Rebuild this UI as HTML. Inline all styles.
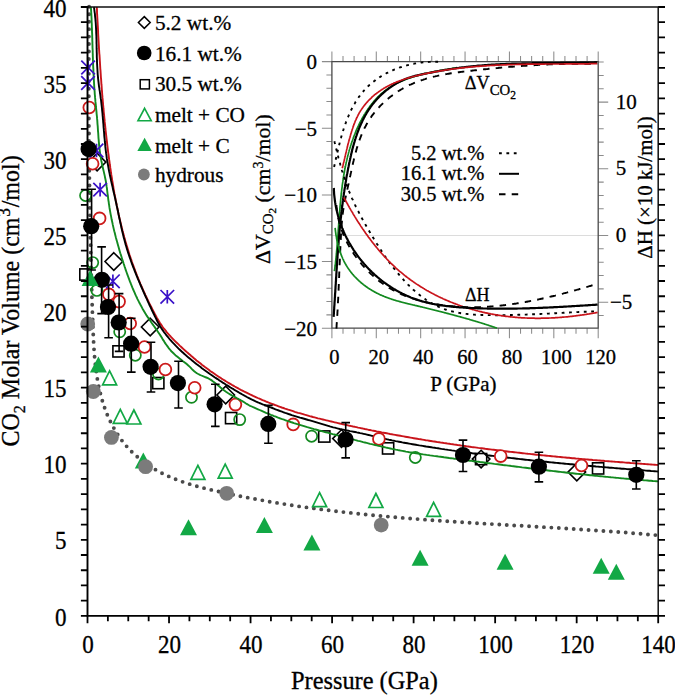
<!DOCTYPE html>
<html><head><meta charset="utf-8"><style>
html,body{margin:0;padding:0;background:#fff;width:675px;height:695px;overflow:hidden}
svg{display:block}
text{font-family:"Liberation Serif",serif;fill:#000;stroke:#000;stroke-width:0.3px}
</style></head><body>
<svg width="675" height="695" viewBox="0 0 675 695">
<rect width="675" height="695" fill="#fff"/>
<polyline points="89.1,6.8 89.1,8.4 89.1,10.1 89.1,11.8 89.1,13.5 89.1,15.2 89.1,16.9 89.0,18.5 89.0,20.2 89.0,21.9 89.0,23.6 89.0,25.3 89.0,26.9 89.0,28.6 89.0,30.3 89.0,32.0 89.0,33.7 88.9,35.3 88.9,37.0 88.9,38.7 88.9,40.3 88.9,42.0 88.9,43.7 88.9,45.4 88.9,47.0 88.9,48.7 88.9,50.4 88.9,52.0 88.9,53.7 88.9,55.4 88.9,57.0 88.8,58.7 88.8,60.4 88.8,62.0 88.8,63.7 88.8,65.4 88.8,67.0 88.8,68.7 88.8,70.3 88.8,72.0 88.8,73.7 88.8,75.3 88.8,77.0 88.8,78.6 88.8,80.3 88.8,82.0 88.8,83.6 88.8,85.3 88.8,86.9 88.8,88.6 88.8,90.2 88.8,91.9 88.8,93.6 88.8,95.2 88.8,96.9 88.8,98.5 88.8,100.2 88.8,101.8 88.8,103.5 88.8,105.1 88.8,106.8 88.9,108.4 88.9,110.1 88.9,111.7 88.9,113.4 88.9,115.0 88.9,116.7 88.9,118.3 88.9,120.0 88.9,121.6 88.9,123.3 88.9,124.9 88.9,126.6 88.9,128.2 89.0,129.9 89.0,131.5 89.0,133.2 89.0,134.8 89.0,136.5 89.0,138.1 89.0,139.8 89.0,141.4 89.0,143.1 89.1,144.7 89.1,146.4 89.1,148.0 89.1,149.7 89.1,151.3 89.1,152.9 89.1,154.6 89.2,156.2 89.2,157.9 89.2,159.5 89.2,161.2 89.2,162.8 89.2,164.5 89.3,166.1 89.3,167.8 89.3,169.4 89.3,171.1 89.3,172.7 89.3,174.3 89.4,176.0 89.4,177.6 89.4,179.3 89.4,180.9 89.5,182.6 89.5,184.2 89.5,185.9 89.5,187.5 89.5,189.2 89.6,190.8 89.6,192.5 89.6,194.1 89.6,195.7 89.7,197.4 89.7,199.0 89.7,200.7 89.7,202.3 89.8,204.0 89.8,205.6 89.8,207.3 89.9,208.9 89.9,210.6 89.9,212.2 89.9,213.9 90.0,215.5 90.0,217.2 90.0,218.8 90.1,220.5 90.1,222.1 90.1,223.8 90.2,225.4 90.2,227.1 90.2,228.7 90.2,230.4 90.3,232.0 90.3,233.7 90.4,235.3 90.4,237.0 90.4,238.6 90.5,240.3 90.5,241.9 90.5,243.6 90.6,245.2 90.6,246.9 90.6,248.6 90.7,250.2 90.7,251.9 90.8,253.5 90.8,255.2 90.8,256.8 90.9,258.5 90.9,260.2 91.0,261.8 91.0,263.5 91.0,265.1 91.1,266.8 91.1,268.5 91.2,270.1 91.2,271.8 91.3,273.4 91.3,275.1 91.3,276.8 91.4,278.4 91.4,280.1 91.5,281.8 91.5,283.4 91.6,285.1 91.6,286.8 91.7,288.4 91.7,290.1 91.8,291.8 91.8,293.4 91.9,295.1 91.9,296.8 92.0,298.4 92.0,300.1 92.1,301.8 92.1,303.5 92.2,305.1 92.2,306.8 92.3,308.5 92.3,310.2 92.4,311.8 92.5,313.5 92.5,315.2 92.6,316.9 92.6,318.6 92.7,320.2 92.7,321.9 92.8,323.6 92.9,325.3 92.9,327.0 93.0,328.6 93.0,330.3 93.1,332.0 93.2,333.7 93.3,335.4 93.3,337.1 93.4,338.7 93.5,340.4 93.6,342.1 93.7,343.8 93.8,345.5 93.9,347.1 94.0,348.8 94.1,350.5 94.2,352.2 94.4,353.8 94.5,355.5 94.6,357.2 94.8,358.8 94.9,360.5 95.1,362.2 95.3,363.8 95.5,365.5 95.7,367.1 95.9,368.8 96.1,370.4 96.3,372.1 96.5,373.7 96.8,375.3 97.0,377.0 97.3,378.6 97.6,380.2 97.9,381.8 98.2,383.5 98.5,385.1 98.8,386.7 99.1,388.3 99.5,389.9 99.9,391.5 100.3,393.1 100.7,394.7 101.1,396.2 101.5,397.8 101.9,399.4 102.4,400.9 102.9,402.5 103.4,404.1 103.9,405.6 104.4,407.1 104.9,408.7 105.5,410.2 106.1,411.7 106.7,413.2 107.3,414.8 107.9,416.3 108.6,417.7 109.3,419.2 110.0,420.7 110.7,422.2 111.4,423.7 112.2,425.1 113.0,426.6 113.8,428.0 114.6,429.4 115.4,430.8 116.3,432.2 117.1,433.6 118.0,435.0 119.0,436.4 119.9,437.7 120.8,439.1 121.8,440.4 122.8,441.7 123.8,443.0 124.9,444.3 125.9,445.5 127.0,446.8 128.1,448.0 129.2,449.2 130.4,450.4 131.5,451.6 132.7,452.7 133.9,453.8 135.1,455.0 136.4,456.1 137.6,457.1 138.9,458.2 140.2,459.3 141.5,460.3 142.8,461.3 144.1,462.3 145.5,463.2 146.8,464.2 148.2,465.1 149.6,466.1 151.0,467.0 152.4,467.8 153.8,468.7 155.2,469.5 156.7,470.4 158.1,471.2 159.6,472.0 161.1,472.7 162.6,473.5 164.1,474.2 165.6,475.0 167.1,475.7 168.6,476.3 170.1,477.0 171.6,477.7 173.1,478.3 174.7,478.9 176.2,479.5 177.8,480.1 179.3,480.7 180.9,481.3 182.4,481.8 184.0,482.3 185.6,482.9 187.2,483.4 188.7,483.9 190.3,484.3 191.9,484.8 193.5,485.3 195.1,485.7 196.7,486.2 198.3,486.6 199.9,487.1 201.5,487.5 203.1,487.9 204.7,488.3 206.3,488.7 207.9,489.1 209.6,489.5 211.2,489.9 212.8,490.3 214.4,490.6 216.0,491.0 217.7,491.4 219.3,491.7 220.9,492.1 222.5,492.5 224.1,492.8 225.8,493.2 227.4,493.5 229.0,493.9 230.6,494.2 232.3,494.5 233.9,494.9 235.5,495.2 237.1,495.6 238.8,495.9 240.4,496.2 242.0,496.5 243.6,496.9 245.3,497.2 246.9,497.5 248.5,497.8 250.2,498.1 251.8,498.4 253.4,498.7 255.0,499.0 256.7,499.3 258.3,499.6 259.9,499.9 261.6,500.2 263.2,500.5 264.8,500.8 266.5,501.1 268.1,501.4 269.7,501.7 271.4,502.0 273.0,502.2 274.6,502.5 276.3,502.8 277.9,503.0 279.5,503.3 281.2,503.6 282.8,503.8 284.4,504.1 286.1,504.4 287.7,504.6 289.3,504.9 291.0,505.1 292.6,505.4 294.2,505.6 295.9,505.9 297.5,506.1 299.2,506.4 300.8,506.6 302.4,506.8 304.1,507.1 305.7,507.3 307.3,507.5 309.0,507.8 310.6,508.0 312.3,508.2 313.9,508.4 315.5,508.6 317.2,508.9 318.8,509.1 320.5,509.3 322.1,509.5 323.8,509.7 325.4,509.9 327.0,510.1 328.7,510.3 330.3,510.5 332.0,510.7 333.6,510.9 335.2,511.1 336.9,511.3 338.5,511.5 340.2,511.7 341.8,511.9 343.5,512.1 345.1,512.3 346.8,512.5 348.4,512.7 350.0,512.8 351.7,513.0 353.3,513.2 355.0,513.4 356.6,513.6 358.3,513.7 359.9,513.9 361.6,514.1 363.2,514.2 364.9,514.4 366.5,514.6 368.2,514.7 369.8,514.9 371.5,515.1 373.1,515.2 374.8,515.4 376.4,515.6 378.0,515.7 379.7,515.9 381.3,516.0 383.0,516.2 384.6,516.3 386.3,516.5 387.9,516.6 389.6,516.8 391.2,516.9 392.9,517.1 394.5,517.2 396.2,517.3 397.8,517.5 399.5,517.6 401.1,517.8 402.8,517.9 404.4,518.0 406.1,518.2 407.7,518.3 409.4,518.4 411.1,518.6 412.7,518.7 414.4,518.8 416.0,519.0 417.7,519.1 419.3,519.2 421.0,519.3 422.6,519.5 424.3,519.6 425.9,519.7 427.6,519.8 429.2,520.0 430.9,520.1 432.5,520.2 434.2,520.3 435.8,520.4 437.5,520.6 439.1,520.7 440.8,520.8 442.5,520.9 444.1,521.0 445.8,521.1 447.4,521.3 449.1,521.4 450.7,521.5 452.4,521.6 454.0,521.7 455.7,521.8 457.3,521.9 459.0,522.0 460.7,522.1 462.3,522.2 464.0,522.3 465.6,522.4 467.3,522.6 468.9,522.7 470.6,522.8 472.2,522.9 473.9,523.0 475.5,523.1 477.2,523.2 478.9,523.3 480.5,523.4 482.2,523.5 483.8,523.6 485.5,523.7 487.1,523.8 488.8,523.9 490.4,524.0 492.1,524.1 493.8,524.2 495.4,524.3 497.1,524.4 498.7,524.5 500.4,524.6 502.0,524.7 503.7,524.8 505.3,524.9 507.0,525.0 508.7,525.1 510.3,525.2 512.0,525.3 513.6,525.4 515.3,525.5 516.9,525.6 518.6,525.6 520.3,525.7 521.9,525.8 523.6,525.9 525.2,526.0 526.9,526.1 528.5,526.2 530.2,526.3 531.8,526.4 533.5,526.5 535.2,526.6 536.8,526.7 538.5,526.8 540.1,526.9 541.8,527.0 543.4,527.1 545.1,527.2 546.7,527.3 548.4,527.4 550.1,527.5 551.7,527.6 553.4,527.7 555.0,527.8 556.7,527.9 558.3,528.0 560.0,528.1 561.6,528.2 563.3,528.3 564.9,528.4 566.6,528.5 568.3,528.6 569.9,528.7 571.6,528.8 573.2,528.9 574.9,529.0 576.5,529.1 578.2,529.2 579.8,529.4 581.5,529.5 583.1,529.6 584.8,529.7 586.4,529.8 588.1,529.9 589.8,530.0 591.4,530.1 593.1,530.2 594.7,530.3 596.4,530.5 598.0,530.6 599.7,530.7 601.3,530.8 603.0,530.9 604.6,531.0 606.3,531.1 607.9,531.3 609.6,531.4 611.2,531.5 612.9,531.6 614.5,531.7 616.2,531.9 617.8,532.0 619.5,532.1 621.1,532.2 622.8,532.4 624.5,532.5 626.1,532.6 627.8,532.8 629.4,532.9 631.1,533.0 632.7,533.2 634.4,533.3 636.0,533.4 637.7,533.6 639.3,533.7 641.0,533.8 642.6,534.0 644.2,534.1 645.9,534.3 647.5,534.4 649.2,534.5 650.8,534.7 652.5,534.8 654.1,535.0 655.8,535.1 657.4,535.3" fill="none" stroke="#4a4a4a" stroke-width="3.9" stroke-linecap="round" stroke-dasharray="0 7.45"/>
<polyline points="96.8,7.0 96.9,8.7 97.0,10.4 97.0,12.2 97.1,13.9 97.2,15.6 97.3,17.3 97.4,19.0 97.5,20.7 97.6,22.4 97.7,24.2 97.8,25.9 97.9,27.6 98.0,29.3 98.1,31.0 98.1,32.7 98.2,34.5 98.3,36.2 98.4,37.9 98.5,39.6 98.6,41.3 98.7,43.0 98.8,44.7 98.9,46.5 99.0,48.2 99.1,49.9 99.2,51.6 99.3,53.3 99.5,55.0 99.6,56.8 99.7,58.5 99.8,60.2 99.9,61.9 100.0,63.6 100.1,65.3 100.2,67.0 100.3,68.8 100.5,70.5 100.6,72.2 100.7,73.9 100.8,75.6 100.9,77.3 101.1,79.1 101.2,80.8 101.3,82.5 101.4,84.2 101.6,85.9 101.7,87.6 101.8,89.3 102.0,91.1 102.1,92.8 102.2,94.5 102.4,96.2 102.5,97.9 102.7,99.6 102.8,101.3 103.0,103.0 103.1,104.8 103.3,106.5 103.4,108.2 103.6,109.9 103.7,111.6 103.9,113.3 104.1,115.0 104.2,116.7 104.4,118.4 104.6,120.2 104.7,121.9 104.9,123.6 105.1,125.3 105.3,127.0 105.4,128.7 105.6,130.4 105.8,132.1 106.0,133.8 106.2,135.5 106.4,137.3 106.6,139.0 106.8,140.7 107.0,142.4 107.2,144.1 107.4,145.8 107.6,147.5 107.8,149.2 108.0,150.9 108.2,152.6 108.5,154.3 108.7,156.0 108.9,157.7 109.1,159.4 109.4,161.1 109.6,162.8 109.8,164.5 110.1,166.2 110.3,167.9 110.6,169.6 110.8,171.3 111.1,173.0 111.3,174.7 111.6,176.4 111.9,178.1 112.1,179.8 112.4,181.5 112.7,183.2 113.0,184.9 113.3,186.6 113.5,188.3 113.8,190.0 114.1,191.7 114.4,193.4 114.8,195.1 115.1,196.8 115.4,198.5 115.7,200.1 116.0,201.8 116.4,203.5 116.7,205.2 117.1,206.9 117.4,208.6 117.8,210.2 118.1,211.9 118.5,213.6 118.8,215.3 119.2,216.9 119.6,218.6 120.0,220.3 120.4,222.0 120.8,223.6 121.2,225.3 121.6,227.0 122.0,228.6 122.4,230.3 122.9,231.9 123.3,233.6 123.8,235.3 124.2,236.9 124.7,238.6 125.1,240.2 125.6,241.9 126.1,243.5 126.6,245.2 127.1,246.8 127.6,248.5 128.1,250.1 128.6,251.7 129.1,253.4 129.6,255.0 130.2,256.7 130.7,258.3 131.3,259.9 131.8,261.5 132.4,263.2 133.0,264.8 133.6,266.4 134.2,268.0 134.8,269.6 135.4,271.3 136.0,272.9 136.6,274.5 137.2,276.1 137.9,277.7 138.5,279.3 139.2,280.9 139.8,282.5 140.5,284.1 141.2,285.6 141.9,287.2 142.6,288.8 143.3,290.4 144.0,292.0 144.7,293.5 145.4,295.1 146.2,296.7 146.9,298.2 147.6,299.8 148.4,301.3 149.1,302.9 149.9,304.4 150.7,305.9 151.5,307.5 152.2,309.0 153.0,310.5 153.8,312.0 154.6,313.5 155.5,315.1 156.3,316.6 157.1,318.1 157.9,319.5 158.8,321.0 159.7,322.5 160.6,323.9 161.6,325.3 162.5,326.7 163.5,328.1 164.6,329.4 165.6,330.7 166.7,332.1 167.8,333.4 168.9,334.6 170.1,335.9 171.2,337.2 172.4,338.4 173.6,339.6 174.8,340.8 176.0,342.0 177.3,343.2 178.5,344.4 179.7,345.6 181.0,346.8 182.3,348.0 183.5,349.1 184.8,350.3 186.1,351.4 187.4,352.6 188.7,353.7 190.0,354.8 191.3,356.0 192.6,357.1 193.9,358.2 195.2,359.3 196.5,360.4 197.9,361.5 199.2,362.5 200.6,363.6 201.9,364.7 203.3,365.7 204.6,366.8 206.0,367.8 207.4,368.8 208.8,369.8 210.2,370.9 211.6,371.9 213.0,372.8 214.4,373.8 215.8,374.8 217.2,375.7 218.7,376.7 220.1,377.6 221.5,378.6 223.0,379.5 224.5,380.4 225.9,381.3 227.4,382.2 228.9,383.1 230.3,383.9 231.8,384.8 233.3,385.6 234.8,386.5 236.3,387.3 237.8,388.1 239.3,389.0 240.8,389.8 242.4,390.6 243.9,391.4 245.4,392.1 247.0,392.9 248.5,393.7 250.0,394.4 251.6,395.1 253.1,395.9 254.7,396.6 256.3,397.3 257.8,398.0 259.4,398.7 261.0,399.4 262.5,400.1 264.1,400.7 265.7,401.4 267.3,402.0 268.9,402.7 270.5,403.3 272.1,403.9 273.7,404.5 275.3,405.1 276.9,405.7 278.5,406.3 280.1,406.9 281.7,407.5 283.4,408.0 285.0,408.6 286.6,409.1 288.2,409.7 289.9,410.2 291.5,410.7 293.1,411.2 294.8,411.8 296.4,412.3 298.1,412.8 299.7,413.2 301.3,413.7 303.0,414.2 304.6,414.7 306.3,415.1 308.0,415.6 309.6,416.1 311.3,416.5 312.9,417.0 314.6,417.4 316.3,417.8 317.9,418.3 319.6,418.7 321.3,419.1 322.9,419.5 324.6,419.9 326.3,420.3 327.9,420.7 329.6,421.1 331.3,421.5 333.0,421.9 334.6,422.3 336.3,422.7 338.0,423.1 339.7,423.5 341.3,423.9 343.0,424.3 344.7,424.6 346.4,425.0 348.0,425.4 349.7,425.8 351.4,426.1 353.1,426.5 354.8,426.8 356.4,427.2 358.1,427.6 359.8,427.9 361.5,428.3 363.2,428.6 364.9,429.0 366.5,429.3 368.2,429.7 369.9,430.0 371.6,430.4 373.3,430.7 375.0,431.0 376.6,431.4 378.3,431.7 380.0,432.0 381.7,432.4 383.4,432.7 385.1,433.0 386.8,433.3 388.4,433.6 390.1,434.0 391.8,434.3 393.5,434.6 395.2,434.9 396.9,435.2 398.6,435.5 400.3,435.8 402.0,436.1 403.7,436.4 405.3,436.7 407.0,437.0 408.7,437.3 410.4,437.6 412.1,437.9 413.8,438.2 415.5,438.5 417.2,438.8 418.9,439.1 420.6,439.3 422.3,439.6 424.0,439.9 425.7,440.2 427.4,440.4 429.1,440.7 430.8,441.0 432.5,441.3 434.2,441.5 435.8,441.8 437.5,442.1 439.2,442.3 440.9,442.6 442.6,442.8 444.3,443.1 446.0,443.3 447.7,443.6 449.4,443.8 451.1,444.1 452.8,444.3 454.5,444.6 456.2,444.8 457.9,445.1 459.6,445.3 461.3,445.6 463.0,445.8 464.7,446.0 466.4,446.3 468.1,446.5 469.8,446.7 471.5,447.0 473.3,447.2 475.0,447.4 476.7,447.6 478.4,447.9 480.1,448.1 481.8,448.3 483.5,448.5 485.2,448.8 486.9,449.0 488.6,449.2 490.3,449.4 492.0,449.6 493.7,449.8 495.4,450.0 497.1,450.2 498.8,450.4 500.5,450.7 502.2,450.9 503.9,451.1 505.6,451.3 507.4,451.5 509.1,451.7 510.8,451.9 512.5,452.0 514.2,452.2 515.9,452.4 517.6,452.6 519.3,452.8 521.0,453.0 522.7,453.2 524.4,453.4 526.1,453.6 527.9,453.8 529.6,453.9 531.3,454.1 533.0,454.3 534.7,454.5 536.4,454.7 538.1,454.8 539.8,455.0 541.5,455.2 543.2,455.4 544.9,455.5 546.7,455.7 548.4,455.9 550.1,456.0 551.8,456.2 553.5,456.4 555.2,456.5 556.9,456.7 558.6,456.9 560.3,457.0 562.1,457.2 563.8,457.4 565.5,457.5 567.2,457.7 568.9,457.8 570.6,458.0 572.3,458.2 574.0,458.3 575.8,458.5 577.5,458.6 579.2,458.8 580.9,458.9 582.6,459.1 584.3,459.2 586.0,459.4 587.7,459.5 589.5,459.7 591.2,459.8 592.9,460.0 594.6,460.1 596.3,460.2 598.0,460.4 599.7,460.5 601.5,460.7 603.2,460.8 604.9,461.0 606.6,461.1 608.3,461.2 610.0,461.4 611.7,461.5 613.4,461.6 615.2,461.8 616.9,461.9 618.6,462.0 620.3,462.2 622.0,462.3 623.7,462.4 625.4,462.6 627.2,462.7 628.9,462.8 630.6,463.0 632.3,463.1 634.0,463.2 635.7,463.4 637.4,463.5 639.2,463.6 640.9,463.7 642.6,463.9 644.3,464.0 646.0,464.1 647.7,464.2 649.4,464.4 651.1,464.5 652.9,464.6 654.6,464.7 656.3,464.9 658.0,465.0" fill="none" stroke="#c9141b" stroke-width="1.9" stroke-linejoin="round"/>
<polyline points="93.9,7.0 94.2,8.7 94.4,10.4 94.6,12.1 94.9,13.9 95.0,15.6 95.2,17.3 95.4,19.0 95.5,20.7 95.7,22.5 95.8,24.2 95.9,25.9 96.0,27.6 96.1,29.4 96.2,31.1 96.2,32.8 96.3,34.5 96.4,36.3 96.4,38.0 96.5,39.7 96.5,41.5 96.5,43.2 96.6,44.9 96.6,46.7 96.6,48.4 96.7,50.1 96.7,51.8 96.8,53.6 96.8,55.3 96.8,57.0 96.9,58.8 97.0,60.5 97.0,62.2 97.1,63.9 97.2,65.7 97.3,67.4 97.4,69.1 97.5,70.8 97.6,72.6 97.7,74.3 97.9,76.0 98.0,77.7 98.2,79.4 98.4,81.1 98.6,82.8 98.8,84.6 99.0,86.3 99.3,88.0 99.5,89.7 99.8,91.4 100.0,93.1 100.3,94.8 100.5,96.5 100.7,98.2 101.0,99.9 101.2,101.6 101.4,103.3 101.6,105.1 101.8,106.8 102.0,108.5 102.1,110.2 102.3,111.9 102.5,113.7 102.6,115.4 102.8,117.1 102.9,118.8 103.1,120.5 103.2,122.3 103.4,124.0 103.5,125.7 103.6,127.4 103.8,129.2 103.9,130.9 104.1,132.6 104.2,134.3 104.3,136.1 104.5,137.8 104.7,139.5 104.8,141.2 105.0,142.9 105.2,144.7 105.3,146.4 105.5,148.1 105.7,149.8 105.9,151.5 106.1,153.2 106.4,154.9 106.6,156.6 106.8,158.4 107.1,160.1 107.4,161.8 107.7,163.5 108.0,165.2 108.3,166.9 108.6,168.6 108.9,170.2 109.2,171.9 109.6,173.6 109.9,175.3 110.3,177.0 110.7,178.7 111.0,180.4 111.4,182.1 111.8,183.8 112.2,185.4 112.6,187.1 112.9,188.8 113.3,190.5 113.7,192.2 114.1,193.9 114.5,195.6 114.9,197.3 115.3,198.9 115.6,200.6 116.0,202.3 116.4,204.0 116.7,205.7 117.1,207.4 117.5,209.1 117.8,210.8 118.2,212.5 118.5,214.2 118.9,215.9 119.2,217.6 119.6,219.2 120.0,220.9 120.3,222.6 120.7,224.3 121.1,226.0 121.4,227.7 121.8,229.4 122.2,231.1 122.6,232.7 123.0,234.4 123.4,236.1 123.8,237.8 124.3,239.4 124.7,241.1 125.2,242.8 125.6,244.4 126.1,246.1 126.6,247.7 127.1,249.4 127.6,251.0 128.1,252.7 128.7,254.3 129.2,255.9 129.8,257.6 130.4,259.2 130.9,260.8 131.5,262.5 132.1,264.1 132.7,265.7 133.3,267.3 134.0,268.9 134.6,270.6 135.2,272.2 135.9,273.8 136.5,275.4 137.2,277.0 137.8,278.6 138.5,280.2 139.2,281.8 139.9,283.4 140.5,285.0 141.2,286.5 141.9,288.1 142.6,289.7 143.3,291.3 144.0,292.9 144.7,294.5 145.4,296.0 146.1,297.6 146.9,299.2 147.6,300.8 148.3,302.3 149.0,303.9 149.7,305.5 150.5,307.0 151.2,308.6 151.9,310.2 152.7,311.7 153.4,313.3 154.2,314.8 154.9,316.4 155.7,317.9 156.5,319.5 157.2,321.0 158.0,322.5 158.9,324.0 159.7,325.5 160.6,327.0 161.5,328.4 162.5,329.9 163.4,331.3 164.4,332.7 165.5,334.0 166.5,335.4 167.6,336.7 168.7,338.0 169.8,339.3 171.0,340.6 172.1,341.9 173.3,343.2 174.5,344.4 175.7,345.7 176.9,346.9 178.1,348.1 179.3,349.3 180.6,350.5 181.9,351.7 183.1,352.8 184.4,354.0 185.7,355.1 187.0,356.3 188.4,357.4 189.7,358.5 191.0,359.6 192.4,360.7 193.7,361.8 195.1,362.9 196.4,364.0 197.8,365.0 199.2,366.1 200.6,367.1 201.9,368.2 203.3,369.2 204.7,370.2 206.1,371.2 207.5,372.2 208.9,373.2 210.3,374.2 211.8,375.2 213.2,376.2 214.6,377.2 216.0,378.1 217.5,379.1 218.9,380.1 220.3,381.0 221.8,381.9 223.2,382.9 224.7,383.8 226.1,384.7 227.6,385.6 229.1,386.6 230.5,387.5 232.0,388.4 233.5,389.2 234.9,390.1 236.4,391.0 237.9,391.9 239.4,392.8 240.9,393.6 242.4,394.5 243.9,395.3 245.4,396.2 246.9,397.0 248.5,397.8 250.0,398.6 251.5,399.4 253.1,400.1 254.7,400.9 256.2,401.6 257.8,402.3 259.4,403.0 261.0,403.6 262.6,404.3 264.2,404.9 265.8,405.5 267.4,406.2 269.0,406.8 270.6,407.4 272.3,408.0 273.9,408.6 275.5,409.3 277.1,409.9 278.7,410.5 280.3,411.1 282.0,411.7 283.6,412.3 285.2,412.9 286.8,413.4 288.5,414.0 290.1,414.5 291.7,415.1 293.4,415.6 295.0,416.1 296.7,416.6 298.3,417.1 300.0,417.6 301.6,418.0 303.3,418.5 305.0,419.0 306.6,419.5 308.3,420.0 309.9,420.4 311.6,420.9 313.3,421.4 314.9,421.9 316.6,422.4 318.2,422.9 319.9,423.4 321.5,423.9 323.2,424.4 324.9,424.9 326.5,425.4 328.2,425.9 329.8,426.4 331.5,426.8 333.2,427.3 334.8,427.7 336.5,428.2 338.2,428.6 339.8,429.0 341.5,429.3 343.2,429.7 344.9,430.1 346.6,430.4 348.3,430.7 350.0,431.1 351.7,431.4 353.4,431.7 355.1,432.0 356.8,432.4 358.5,432.7 360.1,433.1 361.8,433.4 363.5,433.8 365.2,434.2 366.9,434.6 368.6,435.0 370.3,435.4 371.9,435.8 373.6,436.2 375.3,436.6 377.0,437.0 378.6,437.4 380.3,437.8 382.0,438.2 383.7,438.6 385.4,438.9 387.1,439.3 388.8,439.7 390.5,440.0 392.1,440.4 393.8,440.7 395.5,441.1 397.2,441.4 398.9,441.7 400.6,442.0 402.3,442.4 404.0,442.7 405.7,443.0 407.4,443.3 409.1,443.6 410.8,443.9 412.5,444.2 414.2,444.5 415.9,444.8 417.6,445.1 419.3,445.4 421.0,445.6 422.7,445.9 424.4,446.2 426.1,446.5 427.9,446.7 429.6,447.0 431.3,447.3 433.0,447.6 434.7,447.8 436.4,448.1 438.1,448.3 439.8,448.6 441.5,448.9 443.2,449.1 444.9,449.4 446.6,449.6 448.3,449.9 450.1,450.1 451.8,450.4 453.5,450.6 455.2,450.9 456.9,451.1 458.6,451.4 460.3,451.6 462.0,451.8 463.7,452.1 465.4,452.3 467.2,452.6 468.9,452.8 470.6,453.0 472.3,453.3 474.0,453.5 475.7,453.7 477.4,453.9 479.1,454.2 480.9,454.4 482.6,454.6 484.3,454.8 486.0,455.0 487.7,455.3 489.4,455.5 491.1,455.7 492.9,455.9 494.6,456.1 496.3,456.3 498.0,456.5 499.7,456.7 501.4,456.9 503.2,457.1 504.9,457.3 506.6,457.5 508.3,457.7 510.0,457.9 511.7,458.1 513.5,458.3 515.2,458.5 516.9,458.7 518.6,458.9 520.3,459.1 522.0,459.3 523.8,459.5 525.5,459.7 527.2,459.9 528.9,460.0 530.6,460.2 532.3,460.4 534.1,460.6 535.8,460.8 537.5,461.0 539.2,461.1 540.9,461.3 542.7,461.5 544.4,461.7 546.1,461.8 547.8,462.0 549.5,462.2 551.3,462.4 553.0,462.5 554.7,462.7 556.4,462.9 558.1,463.0 559.9,463.2 561.6,463.4 563.3,463.5 565.0,463.7 566.7,463.9 568.5,464.0 570.2,464.2 571.9,464.3 573.6,464.5 575.3,464.7 577.1,464.8 578.8,465.0 580.5,465.1 582.2,465.3 584.0,465.4 585.7,465.6 587.4,465.7 589.1,465.9 590.8,466.0 592.6,466.2 594.3,466.3 596.0,466.5 597.7,466.6 599.4,466.8 601.2,466.9 602.9,467.1 604.6,467.2 606.3,467.4 608.1,467.5 609.8,467.7 611.5,467.8 613.2,467.9 614.9,468.1 616.7,468.2 618.4,468.4 620.1,468.5 621.8,468.7 623.6,468.8 625.3,468.9 627.0,469.1 628.7,469.2 630.4,469.3 632.2,469.5 633.9,469.6 635.6,469.8 637.3,469.9 639.1,470.0 640.8,470.2 642.5,470.3 644.2,470.4 645.9,470.6 647.7,470.7 649.4,470.8 651.1,471.0 652.8,471.1 654.6,471.2 656.3,471.4 658.0,471.5" fill="none" stroke="#000" stroke-width="1.9" stroke-linejoin="round"/>
<path d="M97.1,153.29999999999998L105.89999999999999,162.1L97.1,170.9L88.3,162.1Z" fill="#fff" stroke="#000" stroke-width="1.6"/>
<path d="M113.8,252.7L122.6,261.5L113.8,270.3L105.0,261.5Z" fill="#fff" stroke="#000" stroke-width="1.6"/>
<path d="M150.2,318.2L159.0,327L150.2,335.8L141.39999999999998,327Z" fill="#fff" stroke="#000" stroke-width="1.6"/>
<path d="M225.7,386.2L234.5,395L225.7,403.8L216.89999999999998,395Z" fill="#fff" stroke="#000" stroke-width="1.6"/>
<path d="M341.5,429.8L350.3,438.6L341.5,447.40000000000003L332.7,438.6Z" fill="#fff" stroke="#000" stroke-width="1.6"/>
<path d="M481.1,450.3L489.90000000000003,459.1L481.1,467.90000000000003L472.3,459.1Z" fill="#fff" stroke="#000" stroke-width="1.6"/>
<path d="M576.8,463.3L585.5999999999999,472.1L576.8,480.90000000000003L568.0,472.1Z" fill="#fff" stroke="#000" stroke-width="1.6"/>
<rect x="79.80000000000001" y="268.9" width="11.2" height="11.2" fill="none" stroke="#000" stroke-width="1.6"/>
<rect x="112.9" y="345.79999999999995" width="11.2" height="11.2" fill="none" stroke="#000" stroke-width="1.6"/>
<rect x="152.70000000000002" y="377.5" width="11.2" height="11.2" fill="none" stroke="#000" stroke-width="1.6"/>
<rect x="225.5" y="412.5" width="11.2" height="11.2" fill="none" stroke="#000" stroke-width="1.6"/>
<rect x="318.7" y="430.9" width="11.2" height="11.2" fill="none" stroke="#000" stroke-width="1.6"/>
<rect x="382.5" y="442.79999999999995" width="11.2" height="11.2" fill="none" stroke="#000" stroke-width="1.6"/>
<rect x="475.5" y="453.5" width="11.2" height="11.2" fill="none" stroke="#000" stroke-width="1.6"/>
<rect x="592.5" y="462.79999999999995" width="11.2" height="11.2" fill="none" stroke="#000" stroke-width="1.6"/>
<circle cx="85.6" cy="195.5" r="5.6" fill="none" stroke="#138a20" stroke-width="1.7"/>
<circle cx="92.7" cy="262.6" r="5.6" fill="none" stroke="#138a20" stroke-width="1.7"/>
<circle cx="96.9" cy="290.4" r="5.6" fill="none" stroke="#138a20" stroke-width="1.7"/>
<circle cx="119.7" cy="331.8" r="5.6" fill="none" stroke="#138a20" stroke-width="1.7"/>
<circle cx="135.3" cy="355.2" r="5.6" fill="none" stroke="#138a20" stroke-width="1.7"/>
<circle cx="158.5" cy="374" r="5.6" fill="none" stroke="#138a20" stroke-width="1.7"/>
<circle cx="191.5" cy="397.3" r="5.6" fill="none" stroke="#138a20" stroke-width="1.7"/>
<circle cx="239.7" cy="419.6" r="5.6" fill="none" stroke="#138a20" stroke-width="1.7"/>
<circle cx="311.6" cy="436.2" r="5.6" fill="none" stroke="#138a20" stroke-width="1.7"/>
<circle cx="415.3" cy="457.5" r="5.6" fill="none" stroke="#138a20" stroke-width="1.7"/>
<circle cx="89.3" cy="107.5" r="5.9" fill="#fff" stroke="#cc1a1a" stroke-width="1.8"/>
<circle cx="92.6" cy="163.7" r="5.9" fill="#fff" stroke="#cc1a1a" stroke-width="1.8"/>
<circle cx="99.6" cy="218.4" r="5.9" fill="#fff" stroke="#cc1a1a" stroke-width="1.8"/>
<circle cx="108.9" cy="294.4" r="5.9" fill="#fff" stroke="#cc1a1a" stroke-width="1.8"/>
<circle cx="119.1" cy="301.6" r="5.9" fill="#fff" stroke="#cc1a1a" stroke-width="1.8"/>
<circle cx="130.2" cy="323.5" r="5.9" fill="#fff" stroke="#cc1a1a" stroke-width="1.8"/>
<circle cx="144.5" cy="347" r="5.9" fill="#fff" stroke="#cc1a1a" stroke-width="1.8"/>
<circle cx="165.4" cy="369.5" r="5.9" fill="#fff" stroke="#cc1a1a" stroke-width="1.8"/>
<circle cx="194.7" cy="387.8" r="5.9" fill="#fff" stroke="#cc1a1a" stroke-width="1.8"/>
<circle cx="235.4" cy="404.6" r="5.9" fill="#fff" stroke="#cc1a1a" stroke-width="1.8"/>
<circle cx="293.2" cy="424.4" r="5.9" fill="#fff" stroke="#cc1a1a" stroke-width="1.8"/>
<circle cx="378.9" cy="438.9" r="5.9" fill="#fff" stroke="#cc1a1a" stroke-width="1.8"/>
<circle cx="500.7" cy="456.1" r="5.9" fill="#fff" stroke="#cc1a1a" stroke-width="1.8"/>
<circle cx="581.5" cy="465.5" r="5.9" fill="#fff" stroke="#cc1a1a" stroke-width="1.8"/>
<polyline points="90.9,7.0 91.0,8.7 91.1,10.5 91.2,12.2 91.3,14.0 91.4,15.7 91.5,17.5 91.6,19.2 91.6,21.0 91.7,22.7 91.8,24.5 91.8,26.2 91.9,28.0 92.0,29.7 92.0,31.5 92.1,33.2 92.2,35.0 92.2,36.7 92.3,38.5 92.3,40.2 92.4,42.0 92.4,43.7 92.5,45.5 92.5,47.2 92.6,49.0 92.7,50.7 92.7,52.5 92.8,54.2 92.8,56.0 92.9,57.7 92.9,59.5 93.0,61.2 93.1,63.0 93.1,64.7 93.2,66.5 93.3,68.2 93.4,70.0 93.4,71.7 93.5,73.5 93.6,75.2 93.7,77.0 93.8,78.7 93.9,80.5 94.0,82.2 94.1,84.0 94.2,85.7 94.3,87.5 94.4,89.2 94.6,91.0 94.7,92.7 94.8,94.5 95.0,96.2 95.1,97.9 95.3,99.7 95.4,101.4 95.6,103.2 95.8,104.9 95.9,106.7 96.1,108.4 96.3,110.1 96.5,111.9 96.6,113.6 96.8,115.4 97.0,117.1 97.1,118.9 97.3,120.6 97.4,122.4 97.5,124.1 97.7,125.9 97.8,127.6 97.9,129.4 98.0,131.1 98.2,132.9 98.3,134.6 98.4,136.4 98.5,138.1 98.7,139.9 98.8,141.6 99.0,143.4 99.1,145.1 99.3,146.8 99.5,148.6 99.7,150.3 99.9,152.1 100.2,153.8 100.4,155.5 100.7,157.2 101.0,159.0 101.3,160.7 101.7,162.4 102.0,164.1 102.4,165.8 102.8,167.5 103.2,169.2 103.6,170.9 104.0,172.6 104.4,174.4 104.8,176.1 105.1,177.8 105.5,179.5 105.8,181.2 106.1,182.9 106.4,184.7 106.6,186.4 106.9,188.1 107.1,189.9 107.3,191.6 107.5,193.3 107.8,195.1 108.0,196.8 108.2,198.6 108.4,200.3 108.7,202.0 108.9,203.8 109.2,205.5 109.4,207.2 109.7,209.0 110.0,210.7 110.3,212.4 110.6,214.1 111.0,215.9 111.3,217.6 111.6,219.3 112.0,221.0 112.4,222.7 112.7,224.4 113.1,226.1 113.5,227.9 113.9,229.6 114.3,231.3 114.8,233.0 115.2,234.7 115.6,236.4 116.0,238.0 116.5,239.7 117.0,241.4 117.4,243.1 117.9,244.8 118.4,246.5 118.9,248.2 119.3,249.9 119.8,251.5 120.3,253.2 120.9,254.9 121.4,256.6 121.9,258.2 122.4,259.9 123.0,261.6 123.5,263.2 124.1,264.9 124.6,266.6 125.2,268.2 125.7,269.9 126.3,271.5 126.9,273.2 127.5,274.8 128.1,276.5 128.7,278.1 129.3,279.8 129.9,281.4 130.6,283.0 131.2,284.7 131.9,286.3 132.5,287.9 133.2,289.5 133.9,291.1 134.6,292.7 135.3,294.3 136.0,295.9 136.8,297.5 137.5,299.1 138.3,300.6 139.1,302.2 139.9,303.7 140.7,305.3 141.6,306.8 142.4,308.4 143.3,309.9 144.2,311.4 145.1,312.9 146.0,314.4 146.9,315.9 147.9,317.4 148.9,318.8 149.9,320.3 150.9,321.7 151.9,323.2 152.9,324.6 153.9,326.0 154.9,327.4 155.9,328.9 156.9,330.3 157.9,331.7 158.9,333.2 159.8,334.6 160.8,336.1 161.7,337.6 162.6,339.1 163.6,340.6 164.5,342.1 165.5,343.6 166.5,345.0 167.5,346.4 168.5,347.8 169.6,349.2 170.7,350.5 171.9,351.8 173.2,353.0 174.4,354.2 175.7,355.4 177.1,356.5 178.4,357.6 179.8,358.7 181.2,359.8 182.6,360.9 184.0,361.9 185.4,363.0 186.7,364.1 188.0,365.2 189.3,366.4 190.6,367.6 191.7,368.8 192.9,370.0 194.2,371.2 195.5,372.2 196.9,373.2 198.3,374.0 199.9,374.8 201.4,375.5 203.0,376.2 204.6,376.8 206.3,377.5 207.9,378.2 209.4,379.0 210.9,379.9 212.4,380.9 213.8,381.9 215.1,382.9 216.5,384.1 217.8,385.2 219.2,386.3 220.5,387.5 221.8,388.6 223.2,389.8 224.6,390.8 226.0,391.8 227.5,392.8 229.0,393.7 230.5,394.6 232.0,395.5 233.6,396.3 235.1,397.1 236.7,398.0 238.2,398.8 239.7,399.7 241.2,400.5 242.7,401.4 244.2,402.3 245.6,403.2 247.1,404.1 248.6,405.0 250.1,405.8 251.7,406.5 253.2,407.2 254.8,407.9 256.4,408.6 258.0,409.3 259.6,410.0 261.2,410.7 262.8,411.4 264.4,412.1 266.0,412.8 267.6,413.4 269.2,414.1 270.9,414.8 272.5,415.4 274.1,416.1 275.8,416.7 277.4,417.3 279.0,418.0 280.7,418.6 282.3,419.2 284.0,419.7 285.6,420.3 287.3,420.9 289.0,421.4 290.6,422.0 292.3,422.5 293.9,423.1 295.6,423.6 297.3,424.1 299.0,424.7 300.6,425.2 302.3,425.7 304.0,426.2 305.6,426.7 307.3,427.2 309.0,427.6 310.7,428.1 312.4,428.6 314.1,429.1 315.7,429.5 317.4,430.0 319.1,430.5 320.8,430.9 322.5,431.4 324.2,431.8 325.9,432.3 327.6,432.7 329.3,433.2 331.0,433.6 332.6,434.1 334.3,434.5 336.0,435.0 337.7,435.4 339.4,435.9 341.1,436.3 342.8,436.8 344.5,437.2 346.2,437.7 347.9,438.1 349.6,438.5 351.3,439.0 353.0,439.4 354.7,439.9 356.4,440.3 358.1,440.8 359.8,441.2 361.5,441.6 363.2,442.1 364.9,442.5 366.6,442.9 368.3,443.3 370.0,443.8 371.7,444.2 373.4,444.6 375.1,445.0 376.8,445.4 378.5,445.8 380.2,446.2 381.9,446.6 383.6,447.0 385.3,447.4 387.0,447.8 388.7,448.1 390.4,448.5 392.1,448.9 393.9,449.2 395.6,449.6 397.3,449.9 399.0,450.3 400.7,450.6 402.4,450.9 404.2,451.2 405.9,451.6 407.6,451.9 409.3,452.2 411.1,452.4 412.8,452.7 414.5,453.0 416.2,453.3 418.0,453.6 419.7,453.8 421.4,454.1 423.2,454.4 424.9,454.6 426.6,454.9 428.4,455.1 430.1,455.4 431.8,455.6 433.6,455.9 435.3,456.1 437.0,456.3 438.8,456.6 440.5,456.8 442.2,457.0 444.0,457.3 445.7,457.5 447.4,457.7 449.2,458.0 450.9,458.2 452.7,458.4 454.4,458.7 456.1,458.9 457.9,459.1 459.6,459.3 461.3,459.6 463.1,459.8 464.8,460.0 466.5,460.3 468.3,460.5 470.0,460.7 471.8,460.9 473.5,461.2 475.2,461.4 477.0,461.6 478.7,461.8 480.4,462.1 482.2,462.3 483.9,462.5 485.6,462.7 487.4,463.0 489.1,463.2 490.9,463.4 492.6,463.6 494.3,463.9 496.1,464.1 497.8,464.3 499.5,464.5 501.3,464.7 503.0,465.0 504.8,465.2 506.5,465.4 508.2,465.6 510.0,465.8 511.7,466.1 513.4,466.3 515.2,466.5 516.9,466.7 518.7,466.9 520.4,467.1 522.1,467.4 523.9,467.6 525.6,467.8 527.4,468.0 529.1,468.2 530.8,468.4 532.6,468.6 534.3,468.8 536.0,469.1 537.8,469.3 539.5,469.5 541.3,469.7 543.0,469.9 544.7,470.1 546.5,470.3 548.2,470.5 550.0,470.7 551.7,470.9 553.4,471.1 555.2,471.3 556.9,471.5 558.7,471.7 560.4,471.9 562.1,472.1 563.9,472.3 565.6,472.5 567.4,472.7 569.1,472.9 570.8,473.1 572.6,473.3 574.3,473.5 576.1,473.7 577.8,473.9 579.5,474.0 581.3,474.2 583.0,474.4 584.8,474.6 586.5,474.8 588.2,475.0 590.0,475.2 591.7,475.3 593.5,475.5 595.2,475.7 596.9,475.9 598.7,476.1 600.4,476.2 602.2,476.4 603.9,476.6 605.7,476.8 607.4,476.9 609.1,477.1 610.9,477.3 612.6,477.4 614.4,477.6 616.1,477.8 617.9,477.9 619.6,478.1 621.3,478.3 623.1,478.4 624.8,478.6 626.6,478.7 628.3,478.9 630.1,479.1 631.8,479.2 633.6,479.4 635.3,479.5 637.1,479.7 638.8,479.8 640.5,480.0 642.3,480.1 644.0,480.3 645.8,480.4 647.5,480.5 649.3,480.7 651.0,480.8 652.8,481.0 654.5,481.1 656.3,481.2 658.0,481.4" fill="none" stroke="#138a20" stroke-width="1.9" stroke-linejoin="round"/>
<path d="M88.1,60.7V74.3M81.3,60.7L94.89999999999999,74.3M94.89999999999999,60.7L81.3,74.3" stroke="#3a12c8" stroke-width="1.7" fill="none"/>
<path d="M88.0,76.2V89.8M81.2,76.2L94.8,89.8M94.8,76.2L81.2,89.8" stroke="#3a12c8" stroke-width="1.7" fill="none"/>
<path d="M96.5,143.7V157.3M89.7,143.7L103.3,157.3M103.3,143.7L89.7,157.3" stroke="#3a12c8" stroke-width="1.7" fill="none"/>
<path d="M100.1,182.79999999999998V196.4M93.3,182.79999999999998L106.89999999999999,196.4M106.89999999999999,182.79999999999998L93.3,196.4" stroke="#3a12c8" stroke-width="1.7" fill="none"/>
<path d="M112.9,274.5V288.1M106.10000000000001,274.5L119.7,288.1M119.7,274.5L106.10000000000001,288.1" stroke="#3a12c8" stroke-width="1.7" fill="none"/>
<path d="M167.3,290.0V303.6M160.5,290.0L174.10000000000002,303.6M174.10000000000002,290.0L160.5,303.6" stroke="#3a12c8" stroke-width="1.7" fill="none"/>
<path d="M91.6,189.3V270M87.3,189.3H95.89999999999999M87.3,270H95.89999999999999" stroke="#000" stroke-width="1.6" fill="none"/>
<path d="M101.6,246.9V313.6M97.3,246.9H105.89999999999999M97.3,313.6H105.89999999999999" stroke="#000" stroke-width="1.6" fill="none"/>
<path d="M108.6,285V337.8M104.3,285H112.89999999999999M104.3,337.8H112.89999999999999" stroke="#000" stroke-width="1.6" fill="none"/>
<path d="M119.1,293.6V351.4M114.8,293.6H123.39999999999999M114.8,351.4H123.39999999999999" stroke="#000" stroke-width="1.6" fill="none"/>
<path d="M131.3,318.2V372.1M127.00000000000001,318.2H135.60000000000002M127.00000000000001,372.1H135.60000000000002" stroke="#000" stroke-width="1.6" fill="none"/>
<path d="M151,342.3V392M146.7,342.3H155.3M146.7,392H155.3" stroke="#000" stroke-width="1.6" fill="none"/>
<path d="M178.5,361.2V408M174.2,361.2H182.8M174.2,408H182.8" stroke="#000" stroke-width="1.6" fill="none"/>
<path d="M215.3,384.3V426.4M211.0,384.3H219.60000000000002M211.0,426.4H219.60000000000002" stroke="#000" stroke-width="1.6" fill="none"/>
<path d="M268.4,405.4V443.3M264.09999999999997,405.4H272.7M264.09999999999997,443.3H272.7" stroke="#000" stroke-width="1.6" fill="none"/>
<path d="M345.7,422.6V457.9M341.4,422.6H350.0M341.4,457.9H350.0" stroke="#000" stroke-width="1.6" fill="none"/>
<path d="M463,440.1V471.5M458.7,440.1H467.3M458.7,471.5H467.3" stroke="#000" stroke-width="1.6" fill="none"/>
<path d="M538.9,452.3V481.9M534.6,452.3H543.1999999999999M534.6,481.9H543.1999999999999" stroke="#000" stroke-width="1.6" fill="none"/>
<path d="M636.3,460.8V489M632.0,460.8H640.5999999999999M632.0,489H640.5999999999999" stroke="#000" stroke-width="1.6" fill="none"/>
<circle cx="88.6" cy="148.9" r="8.1" fill="#000" stroke="none" stroke-width="0"/>
<circle cx="91.2" cy="226.2" r="8.1" fill="#000" stroke="none" stroke-width="0"/>
<circle cx="101.9" cy="279.8" r="8.1" fill="#000" stroke="none" stroke-width="0"/>
<circle cx="108" cy="307" r="8.1" fill="#000" stroke="none" stroke-width="0"/>
<circle cx="118.7" cy="322.5" r="8.1" fill="#000" stroke="none" stroke-width="0"/>
<circle cx="131.1" cy="343.7" r="8.1" fill="#000" stroke="none" stroke-width="0"/>
<circle cx="150.6" cy="366.8" r="8.1" fill="#000" stroke="none" stroke-width="0"/>
<circle cx="177.9" cy="383.1" r="8.1" fill="#000" stroke="none" stroke-width="0"/>
<circle cx="214.6" cy="404.3" r="8.1" fill="#000" stroke="none" stroke-width="0"/>
<circle cx="268.3" cy="423.9" r="8.1" fill="#000" stroke="none" stroke-width="0"/>
<circle cx="345.6" cy="439.5" r="8.1" fill="#000" stroke="none" stroke-width="0"/>
<circle cx="463" cy="455" r="8.1" fill="#000" stroke="none" stroke-width="0"/>
<circle cx="538.9" cy="466.7" r="8.1" fill="#000" stroke="none" stroke-width="0"/>
<circle cx="636.3" cy="474.8" r="8.1" fill="#000" stroke="none" stroke-width="0"/>
<path d="M109.6,370.8L116.6,384.8L102.6,384.8Z" fill="#fff" stroke="#12a845" stroke-width="1.7" stroke-linejoin="miter"/>
<path d="M120.3,409.40000000000003L127.3,423.40000000000003L113.3,423.40000000000003Z" fill="#fff" stroke="#12a845" stroke-width="1.7" stroke-linejoin="miter"/>
<path d="M133.9,410.0L140.9,424.0L126.9,424.0Z" fill="#fff" stroke="#12a845" stroke-width="1.7" stroke-linejoin="miter"/>
<path d="M197.9,465.40000000000003L204.9,479.40000000000003L190.9,479.40000000000003Z" fill="#fff" stroke="#12a845" stroke-width="1.7" stroke-linejoin="miter"/>
<path d="M225.2,464.20000000000005L232.2,478.20000000000005L218.2,478.20000000000005Z" fill="#fff" stroke="#12a845" stroke-width="1.7" stroke-linejoin="miter"/>
<path d="M319.6,492.70000000000005L326.6,506.70000000000005L312.6,506.70000000000005Z" fill="#fff" stroke="#12a845" stroke-width="1.7" stroke-linejoin="miter"/>
<path d="M375.9,493.5L382.9,507.5L368.9,507.5Z" fill="#fff" stroke="#12a845" stroke-width="1.7" stroke-linejoin="miter"/>
<path d="M433.6,502.3L440.6,516.3L426.6,516.3Z" fill="#fff" stroke="#12a845" stroke-width="1.7" stroke-linejoin="miter"/>
<path d="M90.1,269.9L98.6,285.9L81.6,285.9Z" fill="#12a845" stroke="none" stroke-width="0" stroke-linejoin="miter"/>
<path d="M98.4,356.59999999999997L106.9,372.59999999999997L89.9,372.59999999999997Z" fill="#12a845" stroke="none" stroke-width="0" stroke-linejoin="miter"/>
<path d="M143.3,452.59999999999997L151.8,468.59999999999997L134.8,468.59999999999997Z" fill="#12a845" stroke="none" stroke-width="0" stroke-linejoin="miter"/>
<path d="M188.5,519.3L197.0,535.3L180.0,535.3Z" fill="#12a845" stroke="none" stroke-width="0" stroke-linejoin="miter"/>
<path d="M264.4,517.1L272.9,533.1L255.89999999999998,533.1Z" fill="#12a845" stroke="none" stroke-width="0" stroke-linejoin="miter"/>
<path d="M311.9,534.5L320.4,550.5L303.4,550.5Z" fill="#12a845" stroke="none" stroke-width="0" stroke-linejoin="miter"/>
<path d="M420.1,549.6999999999999L428.6,565.6999999999999L411.6,565.6999999999999Z" fill="#12a845" stroke="none" stroke-width="0" stroke-linejoin="miter"/>
<path d="M505.1,553.8L513.6,569.8L496.6,569.8Z" fill="#12a845" stroke="none" stroke-width="0" stroke-linejoin="miter"/>
<path d="M601.2,557.8L609.7,573.8L592.7,573.8Z" fill="#12a845" stroke="none" stroke-width="0" stroke-linejoin="miter"/>
<path d="M616.3,563.6999999999999L624.8,579.6999999999999L607.8,579.6999999999999Z" fill="#12a845" stroke="none" stroke-width="0" stroke-linejoin="miter"/>
<circle cx="87.7" cy="324" r="7.4" fill="#7b7b7b" stroke="none" stroke-width="0"/>
<circle cx="93.3" cy="391.5" r="7.4" fill="#7b7b7b" stroke="none" stroke-width="0"/>
<circle cx="111.4" cy="437.4" r="7.4" fill="#7b7b7b" stroke="none" stroke-width="0"/>
<circle cx="145.6" cy="466.7" r="7.4" fill="#7b7b7b" stroke="none" stroke-width="0"/>
<circle cx="226.7" cy="493.3" r="7.4" fill="#7b7b7b" stroke="none" stroke-width="0"/>
<circle cx="381.2" cy="525.1" r="7.4" fill="#7b7b7b" stroke="none" stroke-width="0"/>
<path d="M658.2,7.0H80.9M658.2,6.3V615.9" stroke="#111" stroke-width="1.5" fill="none"/>
<path d="M87.5,6.3V615.9H658.9000000000001" stroke="#000" stroke-width="1.9" fill="none" stroke-linejoin="miter"/>
<path d="M80.9,615.90H87.5 M658.2,615.90H665.0 M80.9,600.68H87.5 M658.2,600.68H665.0 M80.9,585.45H87.5 M658.2,585.45H665.0 M80.9,570.23H87.5 M658.2,570.23H665.0 M80.9,555.01H87.5 M658.2,555.01H665.0 M80.9,539.79H87.5 M658.2,539.79H665.0 M80.9,524.56H87.5 M658.2,524.56H665.0 M80.9,509.34H87.5 M658.2,509.34H665.0 M80.9,494.12H87.5 M658.2,494.12H665.0 M80.9,478.90H87.5 M658.2,478.90H665.0 M80.9,463.67H87.5 M658.2,463.67H665.0 M80.9,448.45H87.5 M658.2,448.45H665.0 M80.9,433.23H87.5 M658.2,433.23H665.0 M80.9,418.01H87.5 M658.2,418.01H665.0 M80.9,402.78H87.5 M658.2,402.78H665.0 M80.9,387.56H87.5 M658.2,387.56H665.0 M80.9,372.34H87.5 M658.2,372.34H665.0 M80.9,357.12H87.5 M658.2,357.12H665.0 M80.9,341.89H87.5 M658.2,341.89H665.0 M80.9,326.67H87.5 M658.2,326.67H665.0 M80.9,311.45H87.5 M658.2,311.45H665.0 M80.9,296.23H87.5 M658.2,296.23H665.0 M80.9,281.00H87.5 M658.2,281.00H665.0 M80.9,265.78H87.5 M658.2,265.78H665.0 M80.9,250.56H87.5 M658.2,250.56H665.0 M80.9,235.34H87.5 M658.2,235.34H665.0 M80.9,220.12H87.5 M658.2,220.12H665.0 M80.9,204.89H87.5 M658.2,204.89H665.0 M80.9,189.67H87.5 M658.2,189.67H665.0 M80.9,174.45H87.5 M658.2,174.45H665.0 M80.9,159.22H87.5 M658.2,159.22H665.0 M80.9,144.00H87.5 M658.2,144.00H665.0 M80.9,128.78H87.5 M658.2,128.78H665.0 M80.9,113.56H87.5 M658.2,113.56H665.0 M80.9,98.34H87.5 M658.2,98.34H665.0 M80.9,83.11H87.5 M658.2,83.11H665.0 M80.9,67.89H87.5 M658.2,67.89H665.0 M80.9,52.67H87.5 M658.2,52.67H665.0 M80.9,37.44H87.5 M658.2,37.44H665.0 M80.9,22.22H87.5 M658.2,22.22H665.0 M80.9,7.00H87.5 M658.2,7.00H665.0 M87.50,615.9V623.3 M107.88,615.9V621.3 M128.26,615.9V621.3 M148.65,615.9V621.3 M169.03,615.9V623.3 M189.41,615.9V621.3 M209.79,615.9V621.3 M230.18,615.9V621.3 M250.56,615.9V623.3 M270.94,615.9V621.3 M291.32,615.9V621.3 M311.70,615.9V621.3 M332.09,615.9V623.3 M352.47,615.9V621.3 M372.85,615.9V621.3 M393.23,615.9V621.3 M413.61,615.9V623.3 M434.00,615.9V621.3 M454.38,615.9V621.3 M474.76,615.9V621.3 M495.14,615.9V623.3 M515.53,615.9V621.3 M535.91,615.9V621.3 M556.29,615.9V621.3 M576.67,615.9V623.3 M597.05,615.9V621.3 M617.44,615.9V621.3 M637.82,615.9V621.3 M658.20,615.9V623.3" stroke="#000" stroke-width="1.8" fill="none"/>
<text transform="translate(66.4,625.5) scale(0.96,1.07)" font-size="24" text-anchor="end" font-family="Liberation Serif, serif">0</text>
<text transform="translate(66.4,549.4) scale(0.96,1.07)" font-size="24" text-anchor="end" font-family="Liberation Serif, serif">5</text>
<text transform="translate(66.4,473.3) scale(0.96,1.07)" font-size="24" text-anchor="end" font-family="Liberation Serif, serif">10</text>
<text transform="translate(66.4,397.2) scale(0.96,1.07)" font-size="24" text-anchor="end" font-family="Liberation Serif, serif">15</text>
<text transform="translate(66.4,321.1) scale(0.96,1.07)" font-size="24" text-anchor="end" font-family="Liberation Serif, serif">20</text>
<text transform="translate(66.4,244.9) scale(0.96,1.07)" font-size="24" text-anchor="end" font-family="Liberation Serif, serif">25</text>
<text transform="translate(66.4,168.8) scale(0.96,1.07)" font-size="24" text-anchor="end" font-family="Liberation Serif, serif">30</text>
<text transform="translate(66.4,92.7) scale(0.96,1.07)" font-size="24" text-anchor="end" font-family="Liberation Serif, serif">35</text>
<text transform="translate(66.4,16.6) scale(0.96,1.07)" font-size="24" text-anchor="end" font-family="Liberation Serif, serif">40</text>
<text transform="translate(87.9,652.8) scale(0.96,1.07)" font-size="24" text-anchor="middle" font-family="Liberation Serif, serif">0</text>
<text transform="translate(169.4,652.8) scale(0.96,1.07)" font-size="24" text-anchor="middle" font-family="Liberation Serif, serif">20</text>
<text transform="translate(251.0,652.8) scale(0.96,1.07)" font-size="24" text-anchor="middle" font-family="Liberation Serif, serif">40</text>
<text transform="translate(332.5,652.8) scale(0.96,1.07)" font-size="24" text-anchor="middle" font-family="Liberation Serif, serif">60</text>
<text transform="translate(414.0,652.8) scale(0.96,1.07)" font-size="24" text-anchor="middle" font-family="Liberation Serif, serif">80</text>
<text transform="translate(495.5,652.8) scale(0.96,1.07)" font-size="24" text-anchor="middle" font-family="Liberation Serif, serif">100</text>
<text transform="translate(577.1,652.8) scale(0.96,1.07)" font-size="24" text-anchor="middle" font-family="Liberation Serif, serif">120</text>
<text transform="translate(658.6,652.8) scale(0.96,1.07)" font-size="24" text-anchor="middle" font-family="Liberation Serif, serif">140</text>
<text transform="translate(291,689.4) scale(1.015,1.08)" font-size="24" font-family="Liberation Serif, serif">Pressure (GPa)</text>
<text transform="translate(19.3,446.5) rotate(-90) scale(1,1.07)" font-size="24" font-family="Liberation Serif, serif">CO<tspan font-size="16" dy="5">2</tspan><tspan dy="-5"> Molar Volume (cm</tspan><tspan font-size="17.5" dy="-9" dx="0.8">3</tspan><tspan dy="9" dx="0.6">/mol)</tspan></text>
<path d="M144.3,16.6L150.20000000000002,22.5L144.3,28.4L138.4,22.5Z" fill="#fff" stroke="#000" stroke-width="1.5"/>
<circle cx="144.2" cy="53.0" r="7.3" fill="#000" stroke="none" stroke-width="0"/>
<rect x="140.20000000000002" y="79.7" width="9.2" height="9.2" fill="none" stroke="#000" stroke-width="1.5"/>
<path d="M144.6,108.3L151.25,120.8L137.95,120.8Z" fill="#fff" stroke="#12a845" stroke-width="1.6" stroke-linejoin="miter"/>
<path d="M144.6,137.72L151.85,151.01999999999998L137.35,151.01999999999998Z" fill="#12a845" stroke="none" stroke-width="0" stroke-linejoin="miter"/>
<circle cx="143.9" cy="174.5" r="5.9" fill="#7b7b7b" stroke="none" stroke-width="0"/>
<text x="154.9" y="30.3" font-size="21.3" font-family="Liberation Serif, serif">5.2 wt.%</text>
<text x="154.9" y="60.8" font-size="21.3" font-family="Liberation Serif, serif">16.1 wt.%</text>
<text x="154.9" y="91.3" font-size="21.3" font-family="Liberation Serif, serif">30.5 wt.%</text>
<text x="154.9" y="122.1" font-size="21.3" font-family="Liberation Serif, serif">melt + CO</text>
<text x="154.9" y="152.6" font-size="21.3" font-family="Liberation Serif, serif">melt + C</text>
<text x="154.9" y="182.0" font-size="21.3" font-family="Liberation Serif, serif">hydrous</text>
<line x1="331.9" y1="235.5" x2="598.2" y2="235.5" stroke="#dcdcdc" stroke-width="1"/>
<path d="M321.9,61.60H331.9 M326.4,74.93H331.9 M326.4,88.26H331.9 M326.4,101.59H331.9 M326.4,114.92H331.9 M321.9,128.25H331.9 M326.4,141.58H331.9 M326.4,154.91H331.9 M326.4,168.24H331.9 M326.4,181.57H331.9 M321.9,194.90H331.9 M326.4,208.23H331.9 M326.4,221.56H331.9 M326.4,234.89H331.9 M326.4,248.22H331.9 M321.9,261.55H331.9 M326.4,274.88H331.9 M326.4,288.21H331.9 M326.4,301.54H331.9 M326.4,314.87H331.9 M321.9,328.20H331.9 M598.2,315.54H603.7 M598.2,302.20H608.2 M598.2,288.86H603.7 M598.2,275.52H603.7 M598.2,262.18H603.7 M598.2,248.84H603.7 M598.2,235.50H608.2 M598.2,222.16H603.7 M598.2,208.82H603.7 M598.2,195.48H603.7 M598.2,182.14H603.7 M598.2,168.80H608.2 M598.2,155.46H603.7 M598.2,142.12H603.7 M598.2,128.78H603.7 M598.2,115.44H603.7 M598.2,102.10H608.2 M598.2,88.76H603.7 M598.2,75.42H603.7 M598.2,62.08H603.7 M331.90,328.2V338.2 M331.90,61.6V51.6 M343.00,328.2V333.7 M343.00,61.6V56.1 M354.09,328.2V333.7 M354.09,61.6V56.1 M365.19,328.2V333.7 M365.19,61.6V56.1 M376.28,328.2V338.2 M376.28,61.6V51.6 M387.38,328.2V333.7 M387.38,61.6V56.1 M398.48,328.2V333.7 M398.48,61.6V56.1 M409.57,328.2V333.7 M409.57,61.6V56.1 M420.67,328.2V338.2 M420.67,61.6V51.6 M431.76,328.2V333.7 M431.76,61.6V56.1 M442.86,328.2V333.7 M442.86,61.6V56.1 M453.95,328.2V333.7 M453.95,61.6V56.1 M465.05,328.2V338.2 M465.05,61.6V51.6 M476.15,328.2V333.7 M476.15,61.6V56.1 M487.24,328.2V333.7 M487.24,61.6V56.1 M498.34,328.2V333.7 M498.34,61.6V56.1 M509.43,328.2V338.2 M509.43,61.6V51.6 M520.53,328.2V333.7 M520.53,61.6V56.1 M531.62,328.2V333.7 M531.62,61.6V56.1 M542.72,328.2V333.7 M542.72,61.6V56.1 M553.82,328.2V338.2 M553.82,61.6V51.6 M564.91,328.2V333.7 M564.91,61.6V56.1 M576.01,328.2V333.7 M576.01,61.6V56.1 M587.10,328.2V333.7 M587.10,61.6V56.1 M598.20,328.2V338.2 M598.20,61.6V51.6" stroke="#8c8c8c" stroke-width="1.05" fill="none"/>
<path d="M331.9,61.6V328.2H598.2V61.6Z" stroke="#4a4a4a" stroke-width="1.3" fill="none"/>
<polyline points="334.1,166.9 334.2,166.5 334.3,166.1 334.4,165.7 334.5,165.3 334.6,164.9 334.6,164.6 334.7,164.2 334.8,163.8 334.9,163.4 335.0,163.0 335.1,162.6 335.2,162.2 335.2,161.8 335.3,161.4 335.4,161.0 335.5,160.6 335.6,160.2 335.7,159.8 335.8,159.4 335.8,159.0 335.9,158.6 336.0,158.2 336.1,157.8 336.2,157.4 336.3,157.0 336.4,156.6 336.5,156.2 336.6,155.8 336.7,155.4 336.7,155.0 336.8,154.6 336.9,154.2 337.0,153.8 337.1,153.4 337.2,153.0 337.3,152.6 337.4,152.2 337.5,151.8 337.6,151.4 337.7,151.0 337.8,150.6 337.9,150.2 338.0,149.8 338.1,149.3 338.2,148.9 338.3,148.5 338.4,148.1 338.4,147.7 338.5,147.3 338.6,146.9 338.7,146.5 338.9,146.1 339.0,145.7 339.1,145.3 339.2,144.8 339.3,144.4 339.4,144.0 339.5,143.6 339.6,143.2 339.7,142.8 339.8,142.4 339.9,142.0 340.0,141.6 340.1,141.1 340.2,140.7 340.3,140.3 340.4,139.9 340.5,139.5 340.7,139.1 340.8,138.7 340.9,138.3 341.0,137.9 341.1,137.4 341.2,137.0 341.3,136.6 341.5,136.2 341.6,135.8 341.7,135.4 341.8,135.0 341.9,134.6 342.1,134.2 342.2,133.7 342.3,133.3 342.4,132.9 342.5,132.5 342.7,132.1 342.8,131.7 342.9,131.3 343.0,130.9 343.2,130.5 343.3,130.1 343.4,129.7 343.6,129.3 343.7,128.8 343.8,128.4 344.0,128.0 344.1,127.6 344.2,127.2 344.4,126.8 344.5,126.4 344.6,126.0 344.8,125.6 344.9,125.2 345.1,124.8 345.2,124.4 345.3,124.0 345.5,123.6 345.6,123.2 345.8,122.8 345.9,122.4 346.1,122.0 346.2,121.6 346.4,121.2 346.5,120.8 346.7,120.4 346.8,120.0 347.0,119.6 347.1,119.2 347.3,118.8 347.4,118.4 347.6,118.0 347.8,117.6 347.9,117.3 348.1,116.9 348.3,116.5 348.4,116.1 348.6,115.7 348.8,115.3 348.9,114.9 349.1,114.5 349.3,114.1 349.4,113.8 349.6,113.4 349.8,113.0 350.0,112.6 350.1,112.2 350.3,111.8 350.5,111.5 350.7,111.1 350.8,110.7 351.0,110.3 351.2,109.9 351.4,109.6 351.6,109.2 351.8,108.8 352.0,108.4 352.2,108.1 352.4,107.7 352.5,107.3 352.7,107.0 352.9,106.6 353.1,106.2 353.3,105.9 353.5,105.5 353.7,105.1 353.9,104.8 354.1,104.4 354.3,104.0 354.6,103.7 354.8,103.3 355.0,103.0 355.2,102.6 355.4,102.3 355.6,101.9 355.8,101.6 356.1,101.2 356.3,100.9 356.5,100.5 356.7,100.2 356.9,99.8 357.2,99.5 357.4,99.1 357.6,98.8 357.9,98.4 358.1,98.1 358.3,97.8 358.6,97.4 358.8,97.1 359.0,96.7 359.3,96.4 359.5,96.1 359.8,95.7 360.0,95.4 360.2,95.1 360.5,94.8 360.7,94.4 361.0,94.1 361.3,93.8 361.5,93.5 361.8,93.2 362.0,92.8 362.3,92.5 362.5,92.2 362.8,91.9 363.1,91.6 363.3,91.3 363.6,91.0 363.9,90.7 364.2,90.3 364.4,90.0 364.7,89.7 365.0,89.4 365.3,89.1 365.5,88.8 365.8,88.5 366.1,88.3 366.4,88.0 366.7,87.7 367.0,87.4 367.3,87.1 367.6,86.8 367.9,86.5 368.2,86.2 368.4,86.0 368.7,85.7 369.0,85.4 369.4,85.1 369.7,84.8 370.0,84.6 370.3,84.3 370.6,84.0 370.9,83.8 371.2,83.5 371.5,83.2 371.8,83.0 372.1,82.7 372.5,82.4 372.8,82.2 373.1,81.9 373.4,81.7 373.8,81.4 374.1,81.2 374.4,80.9 374.7,80.7 375.1,80.4 375.4,80.2 375.7,79.9 376.1,79.7 376.4,79.4 376.7,79.2 377.1,79.0 377.4,78.7 377.7,78.5 378.1,78.3 378.4,78.0 378.8,77.8 379.1,77.6 379.5,77.3 379.8,77.1 380.2,76.9 380.5,76.7 380.9,76.4 381.2,76.2 381.6,76.0 381.9,75.8 382.3,75.6 382.6,75.4 383.0,75.2 383.4,75.0 383.7,74.7 384.1,74.5 384.4,74.3 384.8,74.1 385.2,73.9 385.5,73.7 385.9,73.5 386.3,73.3 386.6,73.1 387.0,72.9 387.4,72.8 387.8,72.6 388.1,72.4 388.5,72.2 388.9,72.0 389.3,71.8 389.6,71.6 390.0,71.5 390.4,71.3 390.8,71.1 391.2,70.9 391.5,70.8 391.9,70.6 392.3,70.4 392.7,70.3 393.1,70.1 393.5,69.9 393.9,69.8 394.2,69.6 394.6,69.4 395.0,69.3 395.4,69.1 395.8,69.0 396.2,68.8 396.6,68.7 397.0,68.5 397.4,68.4 397.8,68.2 398.2,68.1 398.6,67.9 399.0,67.8 399.4,67.6 399.8,67.5 400.2,67.4 400.6,67.2 401.0,67.1 401.4,67.0 401.8,66.8 402.2,66.7 402.6,66.6 403.0,66.4 403.4,66.3 403.8,66.2 404.2,66.1 404.6,66.0 405.0,65.8 405.4,65.7 405.8,65.6 406.2,65.5 406.7,65.4 407.1,65.3 407.5,65.2 407.9,65.1 408.3,65.0 408.7,64.9 409.1,64.8 409.5,64.7 409.9,64.6 410.4,64.5 410.8,64.4 411.2,64.3 411.6,64.2 412.0,64.1 412.4,64.0 412.9,63.9 413.3,63.8 413.7,63.8 414.1,63.7 414.5,63.6 414.9,63.5 415.4,63.4 415.8,63.4 416.2,63.3 416.6,63.2 417.0,63.2 417.5,63.1 417.9,63.0 418.3,63.0 418.7,62.9 419.1,62.8 419.6,62.8 420.0,62.7 420.4,62.7 420.8,62.6 421.2,62.6 421.7,62.5 422.1,62.5 422.5,62.4 422.9,62.4 423.3,62.3 423.8,62.3 424.2,62.2 424.6,62.2 425.0,62.2 425.5,62.1 425.9,62.1 426.3,62.1 426.7,62.0 427.1,62.0 427.6,62.0 428.0,62.0 428.4,61.9 428.8,61.9 429.3,61.9 429.7,61.9 430.1,61.9 430.5,61.8 430.9,61.8 431.4,61.8 431.8,61.8 432.2,61.8 432.6,61.8 433.0,61.8 433.5,61.8 433.9,61.8 434.3,61.8 434.7,61.8 435.2,61.8 435.6,61.8 436.0,61.8 436.4,61.8 436.8,61.8 437.3,61.8 437.7,61.8 438.1,61.8 438.5,61.9 438.9,61.9 439.3,61.9 439.8,61.9 440.2,62.0" fill="none" stroke="#000" stroke-width="1.9" stroke-dasharray="2.8 4.6"/>
<polyline points="334.4,271.2 334.5,270.5 334.6,269.9 334.7,269.2 334.8,268.6 334.9,267.9 334.9,267.3 335.0,266.6 335.1,266.0 335.2,265.3 335.3,264.7 335.3,264.0 335.4,263.4 335.5,262.7 335.6,262.0 335.6,261.4 335.7,260.7 335.8,260.1 335.9,259.4 335.9,258.7 336.0,258.1 336.1,257.4 336.1,256.8 336.2,256.1 336.3,255.4 336.3,254.8 336.4,254.1 336.4,253.4 336.5,252.8 336.6,252.1 336.6,251.4 336.7,250.8 336.7,250.1 336.8,249.4 336.9,248.8 336.9,248.1 337.0,247.4 337.0,246.8 337.1,246.1 337.1,245.4 337.2,244.8 337.2,244.1 337.3,243.4 337.4,242.8 337.4,242.1 337.5,241.4 337.5,240.7 337.6,240.1 337.6,239.4 337.7,238.7 337.7,238.0 337.8,237.4 337.8,236.7 337.9,236.0 337.9,235.3 338.0,234.7 338.0,234.0 338.1,233.3 338.1,232.6 338.2,232.0 338.2,231.3 338.2,230.6 338.3,229.9 338.3,229.3 338.4,228.6 338.4,227.9 338.5,227.2 338.5,226.6 338.6,225.9 338.6,225.2 338.7,224.5 338.7,223.8 338.8,223.2 338.8,222.5 338.9,221.8 338.9,221.1 339.0,220.4 339.0,219.8 339.1,219.1 339.1,218.4 339.2,217.7 339.2,217.1 339.3,216.4 339.3,215.7 339.4,215.0 339.4,214.3 339.5,213.7 339.5,213.0 339.6,212.3 339.6,211.6 339.7,210.9 339.8,210.3 339.8,209.6 339.9,208.9 339.9,208.2 340.0,207.5 340.0,206.9 340.1,206.2 340.2,205.5 340.2,204.8 340.3,204.1 340.3,203.5 340.4,202.8 340.5,202.1 340.5,201.4 340.6,200.7 340.7,200.1 340.7,199.4 340.8,198.7 340.9,198.0 340.9,197.4 341.0,196.7 341.1,196.0 341.1,195.3 341.2,194.6 341.3,194.0 341.4,193.3 341.4,192.6 341.5,191.9 341.6,191.3 341.7,190.6 341.7,189.9 341.8,189.2 341.9,188.6 342.0,187.9 342.1,187.2 342.2,186.5 342.2,185.9 342.3,185.2 342.4,184.5 342.5,183.8 342.6,183.2 342.7,182.5 342.8,181.8 342.9,181.2 343.0,180.5 343.1,179.8 343.2,179.1 343.3,178.5 343.4,177.8 343.5,177.1 343.6,176.5 343.7,175.8 343.8,175.1 343.9,174.5 344.0,173.8 344.2,173.1 344.3,172.5 344.4,171.8 344.5,171.1 344.6,170.5 344.7,169.8 344.9,169.1 345.0,168.5 345.1,167.8 345.3,167.1 345.4,166.5 345.5,165.8 345.7,165.2 345.8,164.5 345.9,163.8 346.1,163.2 346.2,162.5 346.4,161.9 346.5,161.2 346.7,160.5 346.8,159.9 347.0,159.2 347.1,158.6 347.3,157.9 347.4,157.3 347.6,156.6 347.8,156.0 347.9,155.3 348.1,154.7 348.3,154.0 348.4,153.4 348.6,152.7 348.8,152.1 349.0,151.4 349.1,150.8 349.3,150.1 349.5,149.5 349.7,148.8 349.9,148.2 350.1,147.5 350.3,146.9 350.5,146.3 350.7,145.6 350.9,145.0 351.1,144.3 351.3,143.7 351.5,143.1 351.7,142.4 351.9,141.8 352.2,141.1 352.4,140.5 352.6,139.9 352.8,139.2 353.1,138.6 353.3,138.0 353.5,137.4 353.8,136.7 354.0,136.1 354.2,135.5 354.5,134.8 354.7,134.2 355.0,133.6 355.2,133.0 355.5,132.3 355.8,131.7 356.0,131.1 356.3,130.5 356.5,129.9 356.8,129.2 357.1,128.6 357.4,128.0 357.7,127.4 357.9,126.8 358.2,126.2 358.5,125.6 358.8,124.9 359.1,124.3 359.4,123.7 359.7,123.1 360.0,122.5 360.3,121.9 360.6,121.3 360.9,120.7 361.3,120.1 361.6,119.5 361.9,118.9 362.2,118.3 362.6,117.7 362.9,117.1 363.2,116.6 363.6,116.0 363.9,115.4 364.3,114.8 364.6,114.2 365.0,113.6 365.3,113.1 365.7,112.5 366.1,111.9 366.4,111.4 366.8,110.8 367.2,110.2 367.6,109.7 367.9,109.1 368.3,108.6 368.7,108.0 369.1,107.5 369.5,106.9 369.9,106.4 370.3,105.8 370.7,105.3 371.1,104.8 371.5,104.2 372.0,103.7 372.4,103.2 372.8,102.7 373.2,102.2 373.7,101.6 374.1,101.1 374.5,100.6 375.0,100.1 375.4,99.6 375.9,99.1 376.3,98.6 376.8,98.2 377.2,97.7 377.7,97.2 378.2,96.7 378.6,96.3 379.1,95.8 379.6,95.3 380.1,94.9 380.6,94.4 381.1,94.0 381.6,93.5 382.1,93.1 382.6,92.7 383.1,92.3 383.6,91.8 384.1,91.4 384.6,91.0 385.1,90.6 385.7,90.2 386.2,89.8 386.7,89.4 387.3,89.0 387.8,88.6 388.4,88.3 388.9,87.9 389.5,87.5 390.0,87.2 390.6,86.8 391.1,86.5 391.7,86.1 392.3,85.8 392.9,85.4 393.4,85.1 394.0,84.8 394.6,84.5 395.2,84.1 395.8,83.8 396.4,83.5 397.0,83.2 397.6,82.9 398.2,82.6 398.8,82.3 399.4,82.1 400.0,81.8 400.6,81.5 401.3,81.2 401.9,81.0 402.5,80.7 403.1,80.4 403.7,80.2 404.4,79.9 405.0,79.7 405.6,79.4 406.3,79.2 406.9,79.0 407.6,78.7 408.2,78.5 408.9,78.3 409.5,78.0 410.2,77.8 410.8,77.6 411.5,77.4 412.1,77.2 412.8,77.0 413.4,76.8 414.1,76.6 414.7,76.4 415.4,76.2 416.1,76.0 416.7,75.8 417.4,75.6 418.1,75.4 418.7,75.2 419.4,75.1 420.1,74.9 420.7,74.7 421.4,74.5 422.1,74.4 422.8,74.2 423.4,74.0 424.1,73.9 424.8,73.7 425.5,73.6 426.1,73.4 426.8,73.3 427.5,73.1 428.2,73.0 428.8,72.8 429.5,72.7 430.2,72.5 430.9,72.4 431.5,72.3 432.2,72.1 432.9,72.0 433.6,71.8 434.2,71.7 434.9,71.6 435.6,71.4 436.3,71.3 436.9,71.2 437.6,71.1 438.3,70.9 439.0,70.8 439.6,70.7 440.3,70.6 441.0,70.4 441.6,70.3 442.3,70.2 443.0,70.1 443.6,70.0 444.3,69.9 445.0,69.7 445.6,69.6 446.3,69.5 447.0,69.4 447.6,69.3 448.3,69.2 448.9,69.1 449.6,68.9 450.2,68.8 450.9,68.7 451.5,68.6 452.2,68.5 452.8,68.4 453.5,68.3 454.1,68.1 454.7,68.0 455.4,67.9 456.0,67.8 456.6,67.7 457.3,67.6" fill="none" stroke="#138a20" stroke-width="1.7"/>
<polyline points="333.6,316.8 333.7,315.6 333.8,314.5 333.9,313.3 333.9,312.2 334.0,311.0 334.1,309.9 334.2,308.7 334.2,307.6 334.3,306.4 334.4,305.3 334.5,304.2 334.5,303.0 334.6,301.9 334.7,300.7 334.8,299.6 334.8,298.4 334.9,297.3 335.0,296.1 335.0,295.0 335.1,293.9 335.2,292.7 335.3,291.6 335.3,290.4 335.4,289.3 335.5,288.2 335.5,287.0 335.6,285.9 335.7,284.7 335.8,283.6 335.8,282.5 335.9,281.3 336.0,280.2 336.0,279.1 336.1,277.9 336.2,276.8 336.3,275.6 336.3,274.5 336.4,273.4 336.5,272.2 336.5,271.1 336.6,270.0 336.7,268.8 336.8,267.7 336.8,266.6 336.9,265.4 337.0,264.3 337.1,263.2 337.1,262.1 337.2,260.9 337.3,259.8 337.4,258.7 337.5,257.5 337.5,256.4 337.6,255.3 337.7,254.2 337.8,253.0 337.9,251.9 337.9,250.8 338.0,249.6 338.1,248.5 338.2,247.4 338.3,246.3 338.4,245.1 338.5,244.0 338.6,242.9 338.6,241.8 338.7,240.6 338.8,239.5 338.9,238.4 339.0,237.3 339.1,236.1 339.2,235.0 339.3,233.9 339.4,232.8 339.5,231.6 339.6,230.5 339.7,229.4 339.8,228.3 339.9,227.1 340.0,226.0 340.2,224.9 340.3,223.8 340.4,222.6 340.5,221.5 340.6,220.4 340.7,219.3 340.8,218.2 341.0,217.0 341.1,215.9 341.2,214.8 341.3,213.7 341.5,212.5 341.6,211.4 341.7,210.3 341.9,209.2 342.0,208.1 342.1,206.9 342.3,205.8 342.4,204.7 342.6,203.6 342.7,202.4 342.8,201.3 343.0,200.2 343.1,199.1 343.3,198.0 343.5,196.8 343.6,195.7 343.8,194.6 343.9,193.5 344.1,192.3 344.3,191.2 344.4,190.1 344.6,189.0 344.8,187.9 345.0,186.7 345.1,185.6 345.3,184.5 345.5,183.4 345.7,182.2 345.9,181.1 346.1,180.0 346.2,178.9 346.4,177.7 346.6,176.6 346.8,175.5 347.0,174.4 347.3,173.2 347.5,172.1 347.7,171.0 347.9,169.9 348.1,168.7 348.3,167.6 348.6,166.5 348.8,165.4 349.0,164.2 349.2,163.1 349.5,162.0 349.7,160.9 350.0,159.7 350.2,158.6 350.5,157.5 350.7,156.4 351.0,155.2 351.2,154.1 351.5,153.0 351.8,151.9 352.0,150.8 352.3,149.6 352.6,148.5 352.9,147.4 353.2,146.3 353.5,145.2 353.8,144.1 354.1,143.0 354.5,141.9 354.8,140.8 355.1,139.7 355.5,138.6 355.8,137.5 356.2,136.4 356.6,135.3 356.9,134.3 357.3,133.2 357.7,132.1 358.1,131.0 358.5,130.0 358.9,128.9 359.3,127.9 359.8,126.8 360.2,125.8 360.7,124.8 361.1,123.7 361.6,122.7 362.1,121.7 362.5,120.7 363.0,119.6 363.6,118.6 364.1,117.6 364.6,116.7 365.1,115.7 365.7,114.7 366.3,113.7 366.8,112.8 367.4,111.8 368.0,110.9 368.6,109.9 369.2,109.0 369.9,108.1 370.5,107.1 371.2,106.2 371.8,105.3 372.5,104.4 373.2,103.5 373.9,102.7 374.6,101.8 375.4,100.9 376.1,100.1 376.9,99.2 377.6,98.4 378.4,97.6 379.2,96.8 380.0,96.0 380.8,95.2 381.6,94.4 382.5,93.7 383.3,92.9 384.2,92.2 385.0,91.4 385.9,90.7 386.8,90.0 387.7,89.3 388.6,88.6 389.5,87.9 390.4,87.3 391.3,86.6 392.3,86.0 393.2,85.4 394.2,84.8 395.1,84.2 396.1,83.6 397.1,83.1 398.1,82.5 399.1,82.0 400.1,81.5 401.1,81.0 402.2,80.5 403.2,80.0 404.2,79.6 405.3,79.1 406.3,78.7 407.4,78.3 408.5,77.9 409.6,77.6 410.6,77.2 411.7,76.9 412.8,76.5 413.9,76.2 415.0,75.9 416.1,75.7 417.3,75.4 418.4,75.1 419.5,74.9 420.6,74.6 421.8,74.4 422.9,74.2 424.0,73.9 425.1,73.7 426.3,73.5 427.4,73.2 428.5,73.0 429.6,72.8 430.8,72.6 431.9,72.4 433.0,72.2 434.1,71.9 435.3,71.7 436.4,71.5 437.5,71.3 438.6,71.1 439.7,70.9 440.9,70.7 442.0,70.5 443.1,70.3 444.2,70.1 445.3,69.9 446.5,69.8 447.6,69.6 448.7,69.4 449.8,69.2 450.9,69.0 452.0,68.9 453.2,68.7 454.3,68.5 455.4,68.4 456.5,68.2 457.6,68.0 458.8,67.9 459.9,67.7 461.0,67.6 462.1,67.4 463.3,67.3 464.4,67.2 465.5,67.0 466.6,66.9 467.8,66.8 468.9,66.6 470.0,66.5 471.1,66.4 472.3,66.3 473.4,66.2 474.5,66.1 475.6,66.0 476.8,65.8 477.9,65.7 479.0,65.6 480.2,65.5 481.3,65.5 482.4,65.4 483.6,65.3 484.7,65.2 485.8,65.1 486.9,65.0 488.1,64.9 489.2,64.9 490.3,64.8 491.5,64.7 492.6,64.6 493.7,64.6 494.9,64.5 496.0,64.4 497.1,64.4 498.3,64.3 499.4,64.3 500.5,64.2 501.7,64.1 502.8,64.1 504.0,64.0 505.1,64.0 506.2,63.9 507.4,63.9 508.5,63.8 509.6,63.8 510.8,63.8 511.9,63.7 513.0,63.7 514.2,63.6 515.3,63.6 516.5,63.6 517.6,63.5 518.7,63.5 519.9,63.5 521.0,63.5 522.1,63.4 523.3,63.4 524.4,63.4 525.6,63.4 526.7,63.3 527.8,63.3 529.0,63.3 530.1,63.3 531.3,63.3 532.4,63.2 533.5,63.2 534.7,63.2 535.8,63.2 536.9,63.2 538.1,63.2 539.2,63.1 540.4,63.1 541.5,63.1 542.6,63.1 543.8,63.1 544.9,63.1 546.1,63.1 547.2,63.1 548.3,63.0 549.5,63.0 550.6,63.0 551.8,63.0 552.9,63.0 554.0,63.0 555.2,63.0 556.3,63.0 557.4,63.0 558.6,63.0 559.7,63.0 560.9,62.9 562.0,62.9 563.1,62.9 564.3,62.9 565.4,62.9 566.5,62.9 567.7,62.9 568.8,62.9 570.0,62.9 571.1,62.9 572.2,62.8 573.4,62.8 574.5,62.8 575.6,62.8 576.8,62.8 577.9,62.8 579.1,62.8 580.2,62.7 581.3,62.7 582.5,62.7 583.6,62.7 584.7,62.7 585.9,62.6 587.0,62.6 588.1,62.6 589.3,62.6 590.4,62.5 591.5,62.5 592.7,62.5 593.8,62.5 594.9,62.4 596.1,62.4 597.2,62.4" fill="none" stroke="#000" stroke-width="2.2"/>
<polyline points="336.4,328.6 336.5,327.5 336.6,326.3 336.6,325.2 336.7,324.0 336.8,322.9 336.9,321.7 336.9,320.6 337.0,319.5 337.1,318.3 337.2,317.2 337.2,316.0 337.3,314.9 337.4,313.8 337.4,312.6 337.5,311.5 337.6,310.3 337.6,309.2 337.7,308.0 337.8,306.9 337.8,305.8 337.9,304.6 337.9,303.5 338.0,302.3 338.0,301.2 338.1,300.0 338.2,298.9 338.2,297.8 338.3,296.6 338.3,295.5 338.4,294.3 338.4,293.2 338.5,292.0 338.5,290.9 338.6,289.8 338.6,288.6 338.7,287.5 338.7,286.3 338.8,285.2 338.8,284.0 338.9,282.9 338.9,281.7 339.0,280.6 339.0,279.5 339.1,278.3 339.1,277.2 339.2,276.0 339.2,274.9 339.2,273.7 339.3,272.6 339.3,271.4 339.4,270.3 339.4,269.2 339.5,268.0 339.5,266.9 339.6,265.7 339.6,264.6 339.7,263.4 339.7,262.3 339.8,261.1 339.8,260.0 339.9,258.8 339.9,257.7 340.0,256.5 340.0,255.4 340.1,254.2 340.1,253.1 340.2,251.9 340.2,250.8 340.3,249.6 340.3,248.5 340.4,247.3 340.4,246.2 340.5,245.0 340.5,243.9 340.6,242.7 340.6,241.6 340.7,240.4 340.8,239.3 340.8,238.1 340.9,237.0 340.9,235.8 341.0,234.7 341.1,233.5 341.1,232.4 341.2,231.2 341.3,230.1 341.4,228.9 341.4,227.8 341.5,226.6 341.6,225.5 341.7,224.4 341.8,223.2 341.9,222.1 342.0,220.9 342.1,219.8 342.2,218.7 342.3,217.5 342.4,216.4 342.6,215.3 342.7,214.1 342.8,213.0 343.0,211.9 343.1,210.7 343.3,209.6 343.5,208.5 343.7,207.4 343.8,206.3 344.0,205.2 344.2,204.1 344.4,203.0 344.7,201.9 344.9,200.7 345.1,199.6 345.3,198.5 345.6,197.4 345.8,196.3 346.0,195.2 346.3,194.1 346.5,193.0 346.8,191.9 347.0,190.8 347.3,189.7 347.5,188.6 347.7,187.5 348.0,186.4 348.2,185.3 348.5,184.2 348.7,183.1 349.0,181.9 349.2,180.8 349.4,179.7 349.7,178.6 349.9,177.4 350.1,176.3 350.4,175.2 350.6,174.0 350.9,172.9 351.1,171.8 351.4,170.6 351.6,169.5 351.8,168.3 352.1,167.2 352.3,166.1 352.6,164.9 352.9,163.8 353.1,162.7 353.4,161.5 353.7,160.4 353.9,159.3 354.2,158.1 354.5,157.0 354.8,155.9 355.1,154.7 355.4,153.6 355.7,152.5 356.0,151.4 356.3,150.3 356.6,149.1 356.9,148.0 357.3,146.9 357.6,145.8 358.0,144.7 358.3,143.6 358.7,142.5 359.0,141.4 359.4,140.4 359.8,139.3 360.2,138.2 360.6,137.1 361.0,136.1 361.5,135.0 361.9,134.0 362.3,132.9 362.8,131.9 363.3,130.8 363.8,129.8 364.2,128.8 364.7,127.8 365.3,126.8 365.8,125.8 366.3,124.8 366.9,123.8 367.4,122.8 368.0,121.8 368.6,120.8 369.2,119.9 369.8,118.9 370.4,118.0 371.1,117.1 371.7,116.1 372.4,115.2 373.1,114.3 373.8,113.4 374.5,112.5 375.2,111.6 375.9,110.8 376.6,109.9 377.4,109.0 378.1,108.2 378.9,107.4 379.7,106.5 380.5,105.7 381.3,104.9 382.1,104.1 382.9,103.3 383.7,102.5 384.5,101.8 385.4,101.0 386.2,100.2 387.1,99.5 388.0,98.8 388.9,98.0 389.8,97.3 390.7,96.6 391.6,95.9 392.5,95.2 393.4,94.6 394.3,93.9 395.3,93.2 396.2,92.6 397.2,92.0 398.1,91.3 399.1,90.7 400.1,90.1 401.1,89.5 402.0,89.0 403.0,88.4 404.0,87.8 405.0,87.3 406.1,86.8 407.1,86.2 408.1,85.7 409.1,85.2 410.2,84.7 411.2,84.3 412.2,83.8 413.3,83.4 414.3,82.9 415.4,82.5 416.5,82.1 417.5,81.6 418.6,81.2 419.7,80.9 420.7,80.5 421.8,80.1 422.9,79.8 424.0,79.4 425.1,79.1 426.2,78.7 427.3,78.4 428.4,78.1 429.5,77.8 430.6,77.5 431.7,77.2 432.8,76.9 433.9,76.6 435.1,76.4 436.2,76.1 437.3,75.9 438.4,75.6 439.6,75.4 440.7,75.2 441.8,74.9 443.0,74.7 444.1,74.5 445.2,74.3 446.4,74.1 447.5,73.9 448.7,73.7 449.8,73.5 451.0,73.3 452.1,73.2 453.3,73.0 454.4,72.8 455.5,72.7 456.7,72.5 457.8,72.3 459.0,72.2 460.2,72.0 461.3,71.9 462.5,71.7 463.6,71.6 464.8,71.5 465.9,71.3 467.1,71.2 468.2,71.1 469.4,70.9 470.5,70.8 471.7,70.7 472.8,70.5 474.0,70.4 475.1,70.3 476.2,70.2 477.4,70.0 478.5,69.9 479.7,69.8 480.8,69.7 482.0,69.5 483.1,69.4 484.2,69.3 485.4,69.2 486.5,69.1 487.7,69.0 488.8,68.8 489.9,68.7 491.1,68.6 492.2,68.5 493.3,68.4 494.5,68.3 495.6,68.2 496.7,68.1 497.9,68.0 499.0,67.8 500.1,67.7 501.3,67.6 502.4,67.5 503.5,67.4 504.7,67.3 505.8,67.2 506.9,67.1 508.0,67.0 509.2,66.9 510.3,66.8 511.4,66.8 512.6,66.7 513.7,66.6 514.8,66.5 515.9,66.4 517.1,66.3 518.2,66.2 519.3,66.1 520.5,66.1 521.6,66.0 522.7,65.9 523.8,65.8 525.0,65.7 526.1,65.7 527.2,65.6 528.4,65.5 529.5,65.4 530.6,65.4 531.7,65.3 532.9,65.2 534.0,65.2 535.1,65.1 536.3,65.0 537.4,65.0 538.5,64.9 539.7,64.8 540.8,64.8 541.9,64.7 543.0,64.7 544.2,64.6 545.3,64.6 546.5,64.5 547.6,64.5 548.7,64.4 549.9,64.4 551.0,64.3 552.1,64.3 553.3,64.2 554.4,64.2 555.5,64.2 556.7,64.1 557.8,64.1 559.0,64.1 560.1,64.0 561.3,64.0 562.4,64.0 563.5,64.0 564.7,63.9 565.8,63.9 567.0,63.9 568.1,63.9 569.3,63.9 570.4,63.8 571.6,63.8 572.7,63.8 573.9,63.8 575.0,63.8 576.2,63.8 577.3,63.8 578.5,63.8 579.7,63.8 580.8,63.8 582.0,63.8 583.1,63.8 584.3,63.8 585.5,63.8 586.6,63.8 587.8,63.8 589.0,63.8 590.2,63.9 591.3,63.9 592.5,63.9 593.7,63.9 594.8,63.9 596.0,64.0 597.2,64.0" fill="none" stroke="#000" stroke-width="1.9" stroke-dasharray="6.5 6.2"/>
<polyline points="342.3,168.3 342.5,167.6 342.6,166.8 342.8,166.1 343.0,165.4 343.2,164.6 343.3,163.9 343.5,163.1 343.7,162.4 343.9,161.7 344.0,160.9 344.2,160.2 344.4,159.4 344.6,158.7 344.7,157.9 344.9,157.2 345.1,156.4 345.3,155.7 345.4,154.9 345.6,154.2 345.8,153.4 346.0,152.6 346.2,151.9 346.3,151.1 346.5,150.4 346.7,149.6 346.9,148.9 347.1,148.1 347.3,147.3 347.5,146.6 347.6,145.8 347.8,145.1 348.0,144.3 348.2,143.5 348.4,142.8 348.6,142.0 348.8,141.3 349.0,140.5 349.2,139.7 349.4,139.0 349.6,138.2 349.9,137.5 350.1,136.7 350.3,135.9 350.5,135.2 350.7,134.4 350.9,133.7 351.2,132.9 351.4,132.2 351.6,131.4 351.9,130.6 352.1,129.9 352.4,129.1 352.6,128.4 352.9,127.6 353.1,126.9 353.4,126.2 353.6,125.4 353.9,124.7 354.2,123.9 354.5,123.2 354.8,122.5 355.0,121.8 355.3,121.0 355.6,120.3 356.0,119.6 356.3,118.9 356.6,118.2 356.9,117.5 357.3,116.8 357.6,116.1 358.0,115.4 358.3,114.7 358.7,114.0 359.0,113.4 359.4,112.7 359.8,112.0 360.2,111.4 360.6,110.7 361.0,110.1 361.4,109.4 361.9,108.8 362.3,108.2 362.8,107.5 363.2,106.9 363.7,106.3 364.1,105.7 364.6,105.1 365.1,104.5 365.6,103.9 366.1,103.3 366.6,102.7 367.1,102.2 367.6,101.6 368.1,101.0 368.6,100.5 369.2,99.9 369.7,99.4 370.3,98.8 370.8,98.3 371.4,97.8 371.9,97.2 372.5,96.7 373.1,96.2 373.7,95.7 374.2,95.2 374.8,94.7 375.4,94.2 376.0,93.8 376.6,93.3 377.3,92.8 377.9,92.4 378.5,91.9 379.1,91.5 379.8,91.0 380.4,90.6 381.0,90.1 381.7,89.7 382.3,89.3 383.0,88.9 383.6,88.5 384.3,88.1 385.0,87.7 385.6,87.3 386.3,86.9 387.0,86.6 387.7,86.2 388.4,85.8 389.0,85.5 389.7,85.1 390.4,84.8 391.1,84.4 391.8,84.1 392.5,83.8 393.2,83.5 393.9,83.1 394.6,82.8 395.4,82.5 396.1,82.2 396.8,81.9 397.5,81.6 398.2,81.4 399.0,81.1 399.7,80.8 400.4,80.5 401.1,80.3 401.9,80.0 402.6,79.8 403.4,79.5 404.1,79.3 404.8,79.0 405.6,78.8 406.3,78.5 407.1,78.3 407.8,78.1 408.6,77.9 409.3,77.6 410.1,77.4 410.8,77.2 411.6,77.0 412.3,76.8 413.1,76.6 413.9,76.4 414.6,76.2 415.4,76.0 416.1,75.8 416.9,75.6 417.7,75.4 418.4,75.3 419.2,75.1 420.0,74.9 420.7,74.7 421.5,74.5 422.3,74.4 423.0,74.2 423.8,74.0 424.6,73.9 425.3,73.7 426.1,73.6 426.9,73.4 427.6,73.2 428.4,73.1 429.2,72.9 429.9,72.8 430.7,72.6 431.5,72.5 432.2,72.3 433.0,72.2 433.8,72.0 434.5,71.9 435.3,71.8 436.1,71.6 436.8,71.5 437.6,71.4 438.4,71.2 439.1,71.1 439.9,71.0 440.7,70.8 441.5,70.7 442.2,70.6 443.0,70.5 443.8,70.3 444.5,70.2 445.3,70.1 446.1,70.0 446.8,69.9 447.6,69.7 448.4,69.6 449.1,69.5 449.9,69.4 450.7,69.3 451.5,69.2 452.2,69.1 453.0,69.0 453.8,68.9 454.5,68.8 455.3,68.7 456.1,68.6 456.8,68.5 457.6,68.4 458.4,68.3 459.2,68.2 459.9,68.1 460.7,68.0 461.5,67.9 462.2,67.9 463.0,67.8 463.8,67.7 464.5,67.6 465.3,67.5 466.1,67.4 466.9,67.4 467.6,67.3 468.4,67.2 469.2,67.1 469.9,67.1 470.7,67.0 471.5,66.9 472.3,66.8 473.0,66.8 473.8,66.7 474.6,66.6 475.3,66.6 476.1,66.5 476.9,66.4 477.7,66.4 478.4,66.3 479.2,66.3 480.0,66.2 480.7,66.1 481.5,66.1 482.3,66.0 483.1,66.0 483.8,65.9 484.6,65.9 485.4,65.8 486.2,65.8 486.9,65.7 487.7,65.7 488.5,65.6 489.2,65.6 490.0,65.5 490.8,65.5 491.6,65.4 492.3,65.4 493.1,65.4 493.9,65.3 494.7,65.3 495.4,65.2 496.2,65.2 497.0,65.2 497.8,65.1 498.5,65.1 499.3,65.0 500.1,65.0 500.8,65.0 501.6,64.9 502.4,64.9 503.2,64.9 503.9,64.9 504.7,64.8 505.5,64.8 506.3,64.8 507.0,64.7 507.8,64.7 508.6,64.7 509.4,64.7 510.1,64.6 510.9,64.6 511.7,64.6 512.5,64.6 513.2,64.5 514.0,64.5 514.8,64.5 515.6,64.5 516.3,64.5 517.1,64.4 517.9,64.4 518.7,64.4 519.4,64.4 520.2,64.4 521.0,64.4 521.8,64.3 522.5,64.3 523.3,64.3 524.1,64.3 524.9,64.3 525.6,64.3 526.4,64.2 527.2,64.2 528.0,64.2 528.7,64.2 529.5,64.2 530.3,64.2 531.1,64.2 531.9,64.2 532.6,64.2 533.4,64.2 534.2,64.1 535.0,64.1 535.7,64.1 536.5,64.1 537.3,64.1 538.1,64.1 538.8,64.1 539.6,64.1 540.4,64.1 541.2,64.1 541.9,64.1 542.7,64.1 543.5,64.1 544.3,64.1 545.1,64.0 545.8,64.0 546.6,64.0 547.4,64.0 548.2,64.0 548.9,64.0 549.7,64.0 550.5,64.0 551.3,64.0 552.1,64.0 552.8,64.0 553.6,64.0 554.4,64.0 555.2,64.0 555.9,64.0 556.7,64.0 557.5,64.0 558.3,64.0 559.1,64.0 559.8,64.0 560.6,64.0 561.4,64.0 562.2,64.0 562.9,64.0 563.7,64.0 564.5,63.9 565.3,63.9 566.1,63.9 566.8,63.9 567.6,63.9 568.4,63.9 569.2,63.9 569.9,63.9 570.7,63.9 571.5,63.9 572.3,63.9 573.1,63.9 573.8,63.9 574.6,63.9 575.4,63.9 576.2,63.9 577.0,63.9 577.7,63.9 578.5,63.9 579.3,63.9 580.1,63.8 580.9,63.8 581.6,63.8 582.4,63.8 583.2,63.8 584.0,63.8 584.8,63.8 585.5,63.8 586.3,63.8 587.1,63.8 587.9,63.8 588.6,63.8 589.4,63.7 590.2,63.7 591.0,63.7 591.8,63.7 592.5,63.7 593.3,63.7 594.1,63.7 594.9,63.7 595.7,63.6 596.4,63.6 597.2,63.6" fill="none" stroke="#c9141b" stroke-width="1.7"/>
<polyline points="334.4,141.3 334.6,142.1 334.8,143.0 335.1,143.9 335.3,144.8 335.5,145.7 335.7,146.5 335.9,147.4 336.1,148.3 336.3,149.2 336.5,150.1 336.8,150.9 337.0,151.8 337.2,152.7 337.4,153.6 337.6,154.5 337.9,155.3 338.1,156.2 338.3,157.1 338.5,158.0 338.8,158.8 339.0,159.7 339.2,160.6 339.5,161.5 339.7,162.3 340.0,163.2 340.2,164.1 340.4,165.0 340.7,165.8 340.9,166.7 341.2,167.6 341.4,168.5 341.7,169.3 341.9,170.2 342.2,171.1 342.5,171.9 342.7,172.8 343.0,173.7 343.3,174.5 343.5,175.4 343.8,176.3 344.1,177.1 344.4,178.0 344.6,178.8 344.9,179.7 345.2,180.6 345.5,181.4 345.8,182.3 346.1,183.1 346.4,184.0 346.7,184.8 347.0,185.7 347.3,186.5 347.6,187.4 347.9,188.2 348.3,189.1 348.6,189.9 348.9,190.8 349.2,191.6 349.6,192.4 349.9,193.3 350.3,194.1 350.6,194.9 351.0,195.8 351.3,196.6 351.7,197.4 352.0,198.3 352.4,199.1 352.8,199.9 353.1,200.7 353.5,201.6 353.9,202.4 354.3,203.2 354.7,204.0 355.0,204.8 355.4,205.6 355.8,206.5 356.2,207.3 356.6,208.1 357.0,208.9 357.4,209.7 357.8,210.5 358.3,211.3 358.7,212.1 359.1,212.9 359.5,213.7 359.9,214.5 360.4,215.3 360.8,216.1 361.2,216.9 361.6,217.7 362.1,218.5 362.5,219.3 362.9,220.1 363.4,220.9 363.8,221.7 364.3,222.5 364.7,223.2 365.2,224.0 365.6,224.8 366.0,225.6 366.5,226.4 366.9,227.2 367.4,228.0 367.9,228.7 368.3,229.5 368.8,230.3 369.2,231.1 369.7,231.9 370.1,232.6 370.6,233.4 371.1,234.2 371.5,235.0 372.0,235.8 372.5,236.5 372.9,237.3 373.4,238.1 373.9,238.9 374.3,239.6 374.8,240.4 375.3,241.2 375.7,241.9 376.2,242.7 376.7,243.5 377.2,244.2 377.7,245.0 378.1,245.8 378.6,246.5 379.1,247.3 379.6,248.1 380.1,248.8 380.6,249.6 381.1,250.3 381.6,251.1 382.1,251.8 382.6,252.6 383.1,253.3 383.6,254.1 384.1,254.8 384.6,255.6 385.1,256.3 385.6,257.1 386.1,257.8 386.6,258.6 387.2,259.3 387.7,260.0 388.2,260.8 388.7,261.5 389.3,262.2 389.8,263.0 390.3,263.7 390.9,264.4 391.4,265.1 392.0,265.9 392.5,266.6 393.1,267.3 393.6,268.0 394.2,268.7 394.8,269.5 395.3,270.2 395.9,270.9 396.5,271.6 397.0,272.3 397.6,273.0 398.2,273.7 398.8,274.4 399.4,275.1 400.0,275.8 400.6,276.5 401.2,277.2 401.8,277.9 402.4,278.5 403.0,279.2 403.6,279.9 404.2,280.6 404.8,281.3 405.5,281.9 406.1,282.6 406.7,283.3 407.4,283.9 408.0,284.6 408.7,285.2 409.3,285.9 410.0,286.5 410.6,287.2 411.3,287.8 412.0,288.4 412.6,289.0 413.3,289.7 414.0,290.3 414.7,290.9 415.4,291.5 416.0,292.1 416.7,292.7 417.4,293.3 418.1,293.9 418.9,294.4 419.6,295.0 420.3,295.6 421.0,296.1 421.7,296.7 422.5,297.2 423.2,297.8 423.9,298.3 424.7,298.8 425.4,299.3 426.2,299.9 426.9,300.4 427.7,300.8 428.4,301.3 429.2,301.8 430.0,302.3 430.8,302.7 431.5,303.2 432.3,303.6 433.1,304.1 433.9,304.5 434.7,304.9 435.5,305.3 436.3,305.7 437.1,306.1 437.9,306.5 438.7,306.9 439.5,307.2 440.4,307.6 441.2,307.9 442.0,308.2 442.8,308.6 443.7,308.9 444.5,309.2 445.3,309.5 446.2,309.7 447.0,310.0 447.9,310.3 448.7,310.5 449.6,310.8 450.4,311.0 451.3,311.2 452.2,311.4 453.0,311.6 453.9,311.8 454.8,312.0 455.6,312.2 456.5,312.4 457.4,312.6 458.3,312.7 459.2,312.9 460.0,313.0 460.9,313.2 461.8,313.3 462.7,313.5 463.6,313.6 464.5,313.7 465.4,313.8 466.3,313.9 467.2,314.0 468.1,314.1 469.0,314.2 469.9,314.3 470.8,314.4 471.7,314.4 472.6,314.5 473.5,314.6 474.4,314.6 475.3,314.7 476.2,314.7 477.1,314.8 478.0,314.8 479.0,314.9 479.9,314.9 480.8,314.9 481.7,315.0 482.6,315.0 483.5,315.0 484.4,315.0 485.3,315.1 486.3,315.1 487.2,315.1 488.1,315.1 489.0,315.1 489.9,315.1 490.8,315.1 491.7,315.2 492.6,315.2 493.6,315.2 494.5,315.2 495.4,315.2 496.3,315.2 497.2,315.2 498.1,315.2 499.0,315.2 499.9,315.2 500.8,315.2 501.7,315.2 502.7,315.1 503.6,315.1 504.5,315.1 505.4,315.1 506.3,315.1 507.2,315.1 508.1,315.1 509.0,315.1 509.9,315.0 510.8,315.0 511.7,315.0 512.6,315.0 513.6,315.0 514.5,314.9 515.4,314.9 516.3,314.9 517.2,314.9 518.1,314.8 519.0,314.8 519.9,314.8 520.8,314.8 521.7,314.7 522.6,314.7 523.5,314.7 524.4,314.6 525.3,314.6 526.2,314.6 527.1,314.5 528.0,314.5 528.9,314.5 529.8,314.4 530.7,314.4 531.6,314.4 532.6,314.3 533.5,314.3 534.4,314.2 535.3,314.2 536.2,314.2 537.1,314.1 538.0,314.1 538.9,314.0 539.8,314.0 540.7,314.0 541.6,313.9 542.5,313.9 543.4,313.8 544.3,313.8 545.2,313.7 546.1,313.7 547.0,313.6 547.9,313.6 548.8,313.6 549.7,313.5 550.6,313.5 551.5,313.4 552.4,313.4 553.3,313.3 554.2,313.3 555.1,313.2 556.0,313.2 556.9,313.1 557.8,313.1 558.7,313.0 559.6,313.0 560.5,313.0 561.4,312.9 562.3,312.9 563.2,312.8 564.1,312.8 565.0,312.7 565.9,312.7 566.9,312.6 567.8,312.6 568.7,312.5 569.6,312.5 570.5,312.4 571.4,312.4 572.3,312.4 573.2,312.3 574.1,312.3 575.0,312.2 575.9,312.2 576.8,312.1 577.7,312.1 578.6,312.0 579.5,312.0 580.4,312.0 581.3,311.9 582.2,311.9 583.1,311.8 584.0,311.8 584.9,311.8 585.8,311.7 586.7,311.7 587.6,311.6 588.5,311.6 589.4,311.6 590.3,311.5 591.3,311.5 592.2,311.5 593.1,311.4 594.0,311.4 594.9,311.4 595.8,311.3 596.7,311.3 597.6,311.3" fill="none" stroke="#000" stroke-width="1.9" stroke-dasharray="2.8 4.6"/>
<polyline points="343.9,197.4 344.2,198.1 344.6,198.7 344.9,199.4 345.3,200.0 345.7,200.7 346.0,201.4 346.4,202.0 346.7,202.7 347.1,203.3 347.5,204.0 347.8,204.7 348.2,205.3 348.6,206.0 349.0,206.6 349.3,207.3 349.7,208.0 350.1,208.6 350.5,209.3 350.8,209.9 351.2,210.6 351.6,211.2 352.0,211.9 352.4,212.5 352.8,213.2 353.1,213.8 353.5,214.5 353.9,215.1 354.3,215.8 354.7,216.4 355.1,217.1 355.5,217.7 355.9,218.4 356.3,219.0 356.7,219.7 357.1,220.3 357.5,221.0 357.9,221.6 358.3,222.2 358.7,222.9 359.2,223.5 359.6,224.1 360.0,224.8 360.4,225.4 360.8,226.1 361.2,226.7 361.7,227.3 362.1,228.0 362.5,228.6 362.9,229.2 363.4,229.8 363.8,230.5 364.2,231.1 364.7,231.7 365.1,232.3 365.5,233.0 366.0,233.6 366.4,234.2 366.9,234.8 367.3,235.4 367.8,236.0 368.2,236.7 368.6,237.3 369.1,237.9 369.6,238.5 370.0,239.1 370.5,239.7 370.9,240.3 371.4,240.9 371.8,241.5 372.3,242.1 372.8,242.7 373.2,243.3 373.7,243.9 374.2,244.5 374.7,245.1 375.1,245.7 375.6,246.3 376.1,246.9 376.6,247.5 377.1,248.0 377.5,248.6 378.0,249.2 378.5,249.8 379.0,250.4 379.5,250.9 380.0,251.5 380.5,252.1 381.0,252.7 381.5,253.2 382.0,253.8 382.5,254.3 383.0,254.9 383.5,255.5 384.0,256.0 384.5,256.6 385.0,257.1 385.6,257.7 386.1,258.2 386.6,258.8 387.1,259.3 387.6,259.9 388.2,260.4 388.7,261.0 389.2,261.5 389.8,262.0 390.3,262.6 390.8,263.1 391.4,263.6 391.9,264.1 392.4,264.7 393.0,265.2 393.5,265.7 394.1,266.2 394.6,266.7 395.2,267.3 395.7,267.8 396.3,268.3 396.9,268.8 397.4,269.3 398.0,269.8 398.6,270.3 399.1,270.8 399.7,271.3 400.3,271.8 400.8,272.2 401.4,272.7 402.0,273.2 402.6,273.7 403.2,274.2 403.7,274.6 404.3,275.1 404.9,275.6 405.5,276.0 406.1,276.5 406.7,277.0 407.3,277.4 407.9,277.9 408.5,278.3 409.1,278.8 409.7,279.2 410.3,279.7 410.9,280.1 411.5,280.6 412.2,281.0 412.8,281.4 413.4,281.9 414.0,282.3 414.6,282.7 415.3,283.1 415.9,283.6 416.5,284.0 417.1,284.4 417.8,284.8 418.4,285.2 419.0,285.6 419.7,286.0 420.3,286.5 421.0,286.9 421.6,287.3 422.2,287.6 422.9,288.0 423.5,288.4 424.2,288.8 424.8,289.2 425.5,289.6 426.1,290.0 426.8,290.4 427.4,290.7 428.1,291.1 428.8,291.5 429.4,291.8 430.1,292.2 430.7,292.6 431.4,292.9 432.1,293.3 432.7,293.6 433.4,294.0 434.1,294.3 434.8,294.7 435.4,295.0 436.1,295.4 436.8,295.7 437.5,296.1 438.2,296.4 438.8,296.7 439.5,297.0 440.2,297.4 440.9,297.7 441.6,298.0 442.3,298.3 443.0,298.7 443.6,299.0 444.3,299.3 445.0,299.6 445.7,299.9 446.4,300.2 447.1,300.5 447.8,300.8 448.5,301.1 449.2,301.4 449.9,301.7 450.6,302.0 451.3,302.3 452.0,302.5 452.7,302.8 453.4,303.1 454.2,303.4 454.9,303.6 455.6,303.9 456.3,304.2 457.0,304.4 457.7,304.7 458.4,305.0 459.1,305.2 459.9,305.5 460.6,305.7 461.3,306.0 462.0,306.2 462.7,306.5 463.5,306.7 464.2,307.0 464.9,307.2 465.6,307.4 466.3,307.7 467.1,307.9 467.8,308.1 468.5,308.3 469.3,308.6 470.0,308.8 470.7,309.0 471.4,309.2 472.2,309.4 472.9,309.6 473.6,309.8 474.4,310.0 475.1,310.2 475.8,310.4 476.6,310.6 477.3,310.8 478.0,311.0 478.8,311.2 479.5,311.4 480.3,311.6 481.0,311.7 481.7,311.9 482.5,312.1 483.2,312.3 484.0,312.4 484.7,312.6 485.4,312.8 486.2,312.9 486.9,313.1 487.7,313.2 488.4,313.4 489.2,313.6 489.9,313.7 490.6,313.9 491.4,314.0 492.1,314.1 492.9,314.3 493.6,314.4 494.4,314.5 495.1,314.7 495.9,314.8 496.6,314.9 497.4,315.1 498.1,315.2 498.9,315.3 499.6,315.4 500.4,315.5 501.1,315.6 501.9,315.8 502.6,315.9 503.4,316.0 504.1,316.1 504.9,316.2 505.6,316.3 506.4,316.4 507.1,316.4 507.9,316.5 508.6,316.6 509.4,316.7 510.1,316.8 510.9,316.9 511.6,317.0 512.4,317.0 513.1,317.1 513.9,317.2 514.6,317.2 515.4,317.3 516.2,317.4 516.9,317.4 517.7,317.5 518.4,317.6 519.2,317.6 519.9,317.7 520.7,317.7 521.4,317.8 522.2,317.8 523.0,317.8 523.7,317.9 524.5,317.9 525.2,318.0 526.0,318.0 526.7,318.0 527.5,318.1 528.2,318.1 529.0,318.1 529.8,318.1 530.5,318.2 531.3,318.2 532.0,318.2 532.8,318.2 533.5,318.2 534.3,318.2 535.1,318.3 535.8,318.3 536.6,318.3 537.3,318.3 538.1,318.3 538.8,318.3 539.6,318.3 540.4,318.3 541.1,318.2 541.9,318.2 542.6,318.2 543.4,318.2 544.1,318.2 544.9,318.2 545.7,318.2 546.4,318.1 547.2,318.1 547.9,318.1 548.7,318.1 549.5,318.0 550.2,318.0 551.0,318.0 551.7,317.9 552.5,317.9 553.2,317.9 554.0,317.8 554.7,317.8 555.5,317.7 556.3,317.7 557.0,317.6 557.8,317.6 558.5,317.5 559.3,317.5 560.0,317.4 560.8,317.4 561.6,317.3 562.3,317.2 563.1,317.2 563.8,317.1 564.6,317.0 565.3,317.0 566.1,316.9 566.8,316.8 567.6,316.8 568.3,316.7 569.1,316.6 569.9,316.5 570.6,316.4 571.4,316.4 572.1,316.3 572.9,316.2 573.6,316.1 574.4,316.0 575.1,315.9 575.9,315.8 576.6,315.7 577.4,315.6 578.1,315.5 578.9,315.4 579.6,315.3 580.4,315.2 581.1,315.1 581.9,315.0 582.6,314.9 583.4,314.8 584.1,314.7 584.9,314.6 585.6,314.5 586.4,314.4 587.1,314.2 587.9,314.1 588.6,314.0 589.4,313.9 590.1,313.7 590.9,313.6 591.6,313.5 592.3,313.4 593.1,313.2 593.8,313.1 594.6,313.0 595.3,312.8 596.1,312.7 596.8,312.6 597.6,312.4" fill="none" stroke="#c9141b" stroke-width="1.7"/>
<polyline points="333.8,188.0 333.9,188.8 333.9,189.7 333.9,190.5 334.0,191.4 334.0,192.2 334.1,193.1 334.1,193.9 334.2,194.7 334.3,195.6 334.4,196.4 334.5,197.3 334.6,198.1 334.7,198.9 334.8,199.8 334.9,200.6 335.0,201.4 335.1,202.2 335.3,203.1 335.4,203.9 335.5,204.7 335.7,205.5 335.8,206.4 336.0,207.2 336.2,208.0 336.3,208.8 336.5,209.6 336.7,210.4 336.9,211.3 337.1,212.1 337.3,212.9 337.5,213.7 337.7,214.5 337.9,215.3 338.1,216.1 338.4,216.9 338.6,217.7 338.8,218.5 339.1,219.3 339.3,220.1 339.6,220.9 339.9,221.6 340.1,222.4 340.4,223.2 340.7,224.0 341.0,224.8 341.2,225.5 341.5,226.3 341.8,227.1 342.1,227.9 342.4,228.6 342.8,229.4 343.1,230.2 343.4,230.9 343.7,231.7 344.1,232.4 344.4,233.2 344.7,233.9 345.1,234.7 345.4,235.4 345.8,236.2 346.2,236.9 346.5,237.7 346.9,238.4 347.3,239.1 347.7,239.9 348.0,240.6 348.4,241.3 348.8,242.0 349.2,242.8 349.6,243.5 350.1,244.2 350.5,244.9 350.9,245.6 351.3,246.3 351.7,247.0 352.2,247.7 352.6,248.4 353.1,249.1 353.5,249.8 354.0,250.5 354.4,251.2 354.9,251.9 355.3,252.5 355.8,253.2 356.3,253.9 356.8,254.6 357.2,255.2 357.7,255.9 358.2,256.6 358.7,257.2 359.2,257.9 359.7,258.5 360.2,259.2 360.7,259.8 361.3,260.5 361.8,261.1 362.3,261.7 362.8,262.4 363.4,263.0 363.9,263.6 364.4,264.2 365.0,264.8 365.5,265.5 366.1,266.1 366.6,266.7 367.2,267.3 367.8,267.9 368.3,268.5 368.9,269.1 369.5,269.6 370.0,270.2 370.6,270.8 371.2,271.4 371.8,272.0 372.4,272.5 373.0,273.1 373.6,273.6 374.2,274.2 374.8,274.8 375.4,275.3 376.0,275.8 376.6,276.4 377.3,276.9 377.9,277.5 378.5,278.0 379.2,278.5 379.8,279.0 380.4,279.5 381.1,280.1 381.7,280.6 382.4,281.1 383.0,281.6 383.7,282.1 384.3,282.5 385.0,283.0 385.6,283.5 386.3,284.0 387.0,284.5 387.7,284.9 388.3,285.4 389.0,285.8 389.7,286.3 390.4,286.7 391.1,287.2 391.8,287.6 392.5,288.1 393.2,288.5 393.8,288.9 394.6,289.3 395.3,289.8 396.0,290.2 396.7,290.6 397.4,291.0 398.1,291.4 398.8,291.8 399.5,292.2 400.3,292.5 401.0,292.9 401.7,293.3 402.5,293.7 403.2,294.0 403.9,294.4 404.7,294.7 405.4,295.1 406.2,295.4 406.9,295.8 407.7,296.1 408.4,296.4 409.2,296.7 409.9,297.0 410.7,297.4 411.4,297.7 412.2,298.0 413.0,298.3 413.7,298.5 414.5,298.8 415.3,299.1 416.1,299.4 416.8,299.6 417.6,299.9 418.4,300.2 419.2,300.4 420.0,300.7 420.8,300.9 421.5,301.1 422.3,301.4 423.1,301.6 423.9,301.8 424.7,302.0 425.5,302.2 426.3,302.4 427.1,302.6 427.9,302.8 428.7,303.0 429.5,303.2 430.3,303.4 431.1,303.5 432.0,303.7 432.8,303.9 433.6,304.0 434.4,304.2 435.2,304.3 436.0,304.5 436.9,304.6 437.7,304.8 438.5,304.9 439.3,305.0 440.1,305.2 441.0,305.3 441.8,305.4 442.6,305.5 443.4,305.6 444.3,305.7 445.1,305.8 445.9,306.0 446.7,306.1 447.6,306.2 448.4,306.2 449.2,306.3 450.1,306.4 450.9,306.5 451.7,306.6 452.6,306.7 453.4,306.8 454.2,306.8 455.1,306.9 455.9,307.0 456.7,307.1 457.6,307.1 458.4,307.2 459.2,307.3 460.1,307.3 460.9,307.4 461.7,307.4 462.5,307.5 463.4,307.6 464.2,307.6 465.0,307.7 465.9,307.7 466.7,307.8 467.5,307.8 468.4,307.9 469.2,307.9 470.0,307.9 470.9,308.0 471.7,308.0 472.5,308.1 473.3,308.1 474.2,308.1 475.0,308.2 475.8,308.2 476.7,308.2 477.5,308.3 478.3,308.3 479.2,308.3 480.0,308.4 480.8,308.4 481.6,308.4 482.5,308.4 483.3,308.5 484.1,308.5 484.9,308.5 485.8,308.5 486.6,308.5 487.4,308.6 488.2,308.6 489.1,308.6 489.9,308.6 490.7,308.6 491.5,308.6 492.4,308.6 493.2,308.6 494.0,308.7 494.8,308.7 495.7,308.7 496.5,308.7 497.3,308.7 498.1,308.7 499.0,308.7 499.8,308.7 500.6,308.7 501.4,308.7 502.3,308.7 503.1,308.7 503.9,308.7 504.7,308.7 505.5,308.7 506.4,308.7 507.2,308.7 508.0,308.7 508.8,308.7 509.6,308.7 510.5,308.6 511.3,308.6 512.1,308.6 512.9,308.6 513.8,308.6 514.6,308.6 515.4,308.6 516.2,308.6 517.0,308.6 517.9,308.5 518.7,308.5 519.5,308.5 520.3,308.5 521.1,308.5 522.0,308.5 522.8,308.4 523.6,308.4 524.4,308.4 525.2,308.4 526.0,308.3 526.9,308.3 527.7,308.3 528.5,308.3 529.3,308.3 530.1,308.2 531.0,308.2 531.8,308.2 532.6,308.1 533.4,308.1 534.2,308.1 535.1,308.1 535.9,308.0 536.7,308.0 537.5,308.0 538.3,307.9 539.2,307.9 540.0,307.9 540.8,307.8 541.6,307.8 542.4,307.8 543.2,307.7 544.1,307.7 544.9,307.7 545.7,307.6 546.5,307.6 547.3,307.6 548.2,307.5 549.0,307.5 549.8,307.4 550.6,307.4 551.4,307.4 552.3,307.3 553.1,307.3 553.9,307.2 554.7,307.2 555.5,307.2 556.4,307.1 557.2,307.1 558.0,307.0 558.8,307.0 559.6,306.9 560.5,306.9 561.3,306.8 562.1,306.8 562.9,306.8 563.8,306.7 564.6,306.7 565.4,306.6 566.2,306.6 567.0,306.5 567.9,306.5 568.7,306.4 569.5,306.4 570.3,306.3 571.2,306.3 572.0,306.2 572.8,306.2 573.6,306.1 574.5,306.1 575.3,306.0 576.1,306.0 576.9,305.9 577.7,305.9 578.6,305.8 579.4,305.8 580.2,305.7 581.1,305.7 581.9,305.6 582.7,305.6 583.5,305.5 584.4,305.5 585.2,305.4 586.0,305.4 586.8,305.3 587.7,305.3 588.5,305.2 589.3,305.2 590.1,305.1 591.0,305.0 591.8,305.0 592.6,304.9 593.5,304.9 594.3,304.8 595.1,304.8 596.0,304.7 596.8,304.7 597.6,304.6" fill="none" stroke="#000" stroke-width="2.2"/>
<polyline points="336.4,205.0 336.5,205.8 336.5,206.6 336.6,207.4 336.7,208.2 336.8,209.0 336.8,209.8 336.9,210.6 337.0,211.3 337.2,212.1 337.3,212.9 337.4,213.7 337.5,214.5 337.7,215.3 337.8,216.0 338.0,216.8 338.1,217.6 338.3,218.4 338.5,219.1 338.7,219.9 338.8,220.7 339.0,221.4 339.2,222.2 339.4,223.0 339.6,223.7 339.9,224.5 340.1,225.3 340.3,226.0 340.6,226.8 340.8,227.5 341.0,228.3 341.3,229.0 341.6,229.8 341.8,230.5 342.1,231.2 342.4,232.0 342.7,232.7 343.0,233.5 343.2,234.2 343.5,234.9 343.9,235.6 344.2,236.4 344.5,237.1 344.8,237.8 345.1,238.5 345.5,239.3 345.8,240.0 346.2,240.7 346.5,241.4 346.9,242.1 347.2,242.8 347.6,243.5 348.0,244.2 348.4,244.9 348.7,245.6 349.1,246.3 349.5,247.0 349.9,247.7 350.3,248.3 350.7,249.0 351.1,249.7 351.6,250.4 352.0,251.0 352.4,251.7 352.8,252.4 353.3,253.0 353.7,253.7 354.2,254.4 354.6,255.0 355.1,255.7 355.5,256.3 356.0,257.0 356.5,257.6 356.9,258.2 357.4,258.9 357.9,259.5 358.4,260.1 358.9,260.8 359.4,261.4 359.9,262.0 360.4,262.6 360.9,263.2 361.4,263.8 361.9,264.5 362.4,265.1 363.0,265.7 363.5,266.3 364.0,266.8 364.6,267.4 365.1,268.0 365.6,268.6 366.2,269.2 366.7,269.7 367.3,270.3 367.8,270.9 368.4,271.4 369.0,272.0 369.5,272.6 370.1,273.1 370.7,273.7 371.3,274.2 371.8,274.7 372.4,275.3 373.0,275.8 373.6,276.3 374.2,276.9 374.8,277.4 375.4,277.9 376.0,278.4 376.6,278.9 377.3,279.4 377.9,279.9 378.5,280.4 379.1,280.9 379.7,281.4 380.4,281.9 381.0,282.3 381.6,282.8 382.3,283.3 382.9,283.7 383.6,284.2 384.2,284.6 384.9,285.1 385.5,285.5 386.2,286.0 386.9,286.4 387.5,286.8 388.2,287.2 388.9,287.7 389.6,288.1 390.2,288.5 390.9,288.9 391.6,289.3 392.3,289.7 393.0,290.1 393.7,290.4 394.4,290.8 395.1,291.2 395.8,291.5 396.5,291.9 397.2,292.3 397.9,292.6 398.6,293.0 399.3,293.3 400.1,293.6 400.8,294.0 401.5,294.3 402.2,294.6 403.0,294.9 403.7,295.2 404.4,295.5 405.2,295.8 405.9,296.1 406.7,296.4 407.4,296.7 408.1,296.9 408.9,297.2 409.6,297.5 410.4,297.7 411.2,298.0 411.9,298.2 412.7,298.5 413.4,298.7 414.2,299.0 414.9,299.2 415.7,299.4 416.5,299.7 417.2,299.9 418.0,300.1 418.8,300.3 419.5,300.5 420.3,300.7 421.1,300.9 421.8,301.1 422.6,301.3 423.4,301.5 424.1,301.7 424.9,301.9 425.7,302.1 426.5,302.3 427.2,302.4 428.0,302.6 428.8,302.8 429.5,302.9 430.3,303.1 431.1,303.3 431.9,303.4 432.6,303.6 433.4,303.7 434.2,303.9 435.0,304.0 435.7,304.1 436.5,304.3 437.3,304.4 438.1,304.5 438.9,304.7 439.6,304.8 440.4,304.9 441.2,305.0 442.0,305.1 442.8,305.2 443.5,305.3 444.3,305.5 445.1,305.6 445.9,305.6 446.7,305.7 447.4,305.8 448.2,305.9 449.0,306.0 449.8,306.1 450.6,306.2 451.4,306.2 452.1,306.3 452.9,306.4 453.7,306.4 454.5,306.5 455.3,306.6 456.1,306.6 456.8,306.7 457.6,306.7 458.4,306.8 459.2,306.8 460.0,306.9 460.8,306.9 461.6,306.9 462.4,307.0 463.1,307.0 463.9,307.0 464.7,307.1 465.5,307.1 466.3,307.1 467.1,307.1 467.9,307.1 468.7,307.2 469.4,307.2 470.2,307.2 471.0,307.2 471.8,307.2 472.6,307.2 473.4,307.2 474.2,307.2 475.0,307.2 475.8,307.1 476.5,307.1 477.3,307.1 478.1,307.1 478.9,307.1 479.7,307.1 480.5,307.0 481.3,307.0 482.1,307.0 482.9,306.9 483.7,306.9 484.5,306.9 485.2,306.8 486.0,306.8 486.8,306.7 487.6,306.7 488.4,306.6 489.2,306.6 490.0,306.5 490.8,306.5 491.6,306.4 492.4,306.4 493.2,306.3 493.9,306.2 494.7,306.2 495.5,306.1 496.3,306.0 497.1,305.9 497.9,305.9 498.7,305.8 499.5,305.7 500.3,305.6 501.1,305.5 501.9,305.5 502.6,305.4 503.4,305.3 504.2,305.2 505.0,305.1 505.8,305.0 506.6,304.9 507.4,304.8 508.2,304.7 509.0,304.6 509.8,304.5 510.5,304.4 511.3,304.3 512.1,304.1 512.9,304.0 513.7,303.9 514.5,303.8 515.3,303.7 516.1,303.6 516.9,303.4 517.6,303.3 518.4,303.2 519.2,303.1 520.0,302.9 520.8,302.8 521.6,302.7 522.4,302.5 523.2,302.4 523.9,302.3 524.7,302.1 525.5,302.0 526.3,301.8 527.1,301.7 527.9,301.5 528.7,301.4 529.4,301.2 530.2,301.1 531.0,300.9 531.8,300.8 532.6,300.6 533.4,300.5 534.1,300.3 534.9,300.2 535.7,300.0 536.5,299.8 537.3,299.7 538.1,299.5 538.8,299.4 539.6,299.2 540.4,299.0 541.2,298.8 542.0,298.7 542.7,298.5 543.5,298.3 544.3,298.2 545.1,298.0 545.8,297.8 546.6,297.6 547.4,297.4 548.2,297.3 549.0,297.1 549.7,296.9 550.5,296.7 551.3,296.5 552.1,296.3 552.8,296.2 553.6,296.0 554.4,295.8 555.2,295.6 555.9,295.4 556.7,295.2 557.5,295.0 558.2,294.8 559.0,294.6 559.8,294.4 560.5,294.2 561.3,294.0 562.1,293.8 562.9,293.6 563.6,293.4 564.4,293.2 565.2,293.0 565.9,292.8 566.7,292.6 567.4,292.4 568.2,292.2 569.0,292.0 569.7,291.8 570.5,291.6 571.3,291.4 572.0,291.2 572.8,291.0 573.5,290.8 574.3,290.5 575.1,290.3 575.8,290.1 576.6,289.9 577.3,289.7 578.1,289.5 578.8,289.3 579.6,289.0 580.4,288.8 581.1,288.6 581.9,288.4 582.6,288.2 583.4,288.0 584.1,287.7 584.9,287.5 585.6,287.3 586.4,287.1 587.1,286.9 587.9,286.7 588.6,286.4 589.4,286.2 590.1,286.0 590.8,285.8 591.6,285.5 592.3,285.3 593.1,285.1 593.8,284.9 594.6,284.7 595.3,284.4 596.0,284.2 596.8,284.0 597.5,283.8" fill="none" stroke="#000" stroke-width="1.9" stroke-dasharray="6.5 6.2"/>
<polyline points="335.1,227.9 335.2,228.4 335.2,228.9 335.3,229.4 335.3,229.9 335.4,230.4 335.5,231.0 335.5,231.5 335.6,232.0 335.7,232.5 335.7,233.0 335.8,233.5 335.9,234.0 335.9,234.6 336.0,235.1 336.1,235.6 336.2,236.1 336.3,236.6 336.4,237.1 336.5,237.6 336.5,238.2 336.6,238.7 336.7,239.2 336.8,239.7 336.9,240.2 337.1,240.7 337.2,241.3 337.3,241.8 337.4,242.3 337.5,242.8 337.6,243.3 337.8,243.8 337.9,244.3 338.0,244.9 338.1,245.4 338.3,245.9 338.4,246.4 338.6,246.9 338.7,247.4 338.8,247.9 339.0,248.4 339.1,248.9 339.3,249.4 339.5,249.9 339.6,250.4 339.8,250.9 339.9,251.4 340.1,251.9 340.3,252.4 340.5,252.9 340.6,253.4 340.8,253.9 341.0,254.4 341.2,254.9 341.4,255.4 341.6,255.9 341.8,256.4 342.0,256.8 342.2,257.3 342.4,257.8 342.6,258.3 342.8,258.8 343.0,259.2 343.3,259.7 343.5,260.2 343.7,260.6 343.9,261.1 344.2,261.6 344.4,262.0 344.6,262.5 344.9,262.9 345.1,263.4 345.4,263.8 345.6,264.3 345.9,264.7 346.2,265.2 346.4,265.6 346.7,266.1 347.0,266.5 347.2,266.9 347.5,267.4 347.8,267.8 348.1,268.2 348.4,268.7 348.7,269.1 349.0,269.5 349.3,269.9 349.6,270.3 349.9,270.7 350.2,271.2 350.5,271.6 350.8,272.0 351.1,272.4 351.4,272.8 351.7,273.2 352.1,273.6 352.4,274.0 352.7,274.3 353.0,274.7 353.4,275.1 353.7,275.5 354.1,275.9 354.4,276.3 354.8,276.6 355.1,277.0 355.5,277.4 355.8,277.7 356.2,278.1 356.5,278.5 356.9,278.8 357.2,279.2 357.6,279.5 358.0,279.9 358.4,280.2 358.7,280.6 359.1,280.9 359.5,281.3 359.9,281.6 360.3,282.0 360.6,282.3 361.0,282.6 361.4,283.0 361.8,283.3 362.2,283.6 362.6,283.9 363.0,284.2 363.4,284.6 363.8,284.9 364.2,285.2 364.6,285.5 365.0,285.8 365.4,286.1 365.9,286.4 366.3,286.7 366.7,287.0 367.1,287.3 367.5,287.6 368.0,287.9 368.4,288.2 368.8,288.4 369.3,288.7 369.7,289.0 370.1,289.3 370.6,289.6 371.0,289.8 371.4,290.1 371.9,290.4 372.3,290.6 372.8,290.9 373.2,291.1 373.7,291.4 374.1,291.6 374.5,291.9 375.0,292.1 375.5,292.4 375.9,292.6 376.4,292.9 376.8,293.1 377.3,293.3 377.7,293.6 378.2,293.8 378.7,294.0 379.1,294.2 379.6,294.5 380.1,294.7 380.5,294.9 381.0,295.1 381.5,295.3 382.0,295.5 382.4,295.7 382.9,295.9 383.4,296.1 383.9,296.3 384.3,296.5 384.8,296.7 385.3,296.9 385.8,297.1 386.3,297.3 386.7,297.5 387.2,297.6 387.7,297.8 388.2,298.0 388.7,298.2 389.2,298.3 389.7,298.5 390.2,298.7 390.6,298.8 391.1,299.0 391.6,299.2 392.1,299.3 392.6,299.5 393.1,299.7 393.6,299.8 394.1,300.0 394.6,300.1 395.1,300.3 395.6,300.4 396.1,300.6 396.6,300.7 397.1,300.9 397.6,301.0 398.1,301.1 398.6,301.3 399.1,301.4 399.6,301.6 400.1,301.7 400.6,301.8 401.1,302.0 401.6,302.1 402.1,302.2 402.6,302.4 403.1,302.5 403.6,302.6 404.1,302.8 404.7,302.9 405.2,303.0 405.7,303.2 406.2,303.3 406.7,303.4 407.2,303.5 407.7,303.7 408.2,303.8 408.7,303.9 409.2,304.0 409.7,304.1 410.2,304.3 410.8,304.4 411.3,304.5 411.8,304.6 412.3,304.8 412.8,304.9 413.3,305.0 413.8,305.1 414.3,305.2 414.8,305.3 415.3,305.5 415.8,305.6 416.4,305.7 416.9,305.8 417.4,305.9 417.9,306.1 418.4,306.2 418.9,306.3 419.4,306.4 419.9,306.5 420.4,306.7 420.9,306.8 421.4,306.9 421.9,307.0 422.4,307.1 422.9,307.3 423.4,307.4 424.0,307.5 424.5,307.6 425.0,307.7 425.5,307.9 426.0,308.0 426.5,308.1 427.0,308.2 427.5,308.4 428.0,308.5 428.5,308.6 429.0,308.7 429.5,308.9 430.0,309.0 430.5,309.1 431.0,309.2 431.5,309.4 432.0,309.5 432.5,309.6 433.0,309.7 433.5,309.9 434.0,310.0 434.5,310.1 435.0,310.2 435.5,310.4 436.0,310.5 436.5,310.6 437.0,310.7 437.5,310.9 438.0,311.0 438.5,311.1 439.0,311.2 439.5,311.4 440.0,311.5 440.5,311.6 441.0,311.8 441.5,311.9 442.0,312.0 442.5,312.1 443.0,312.3 443.5,312.4 444.0,312.5 444.5,312.7 445.0,312.8 445.5,312.9 446.0,313.0 446.5,313.2 447.0,313.3 447.5,313.4 448.0,313.6 448.5,313.7 449.0,313.8 449.5,314.0 450.0,314.1 450.5,314.2 451.0,314.4 451.5,314.5 452.0,314.6 452.5,314.8 453.0,314.9 453.5,315.0 454.0,315.2 454.5,315.3 455.0,315.4 455.5,315.6 455.9,315.7 456.4,315.8 456.9,316.0 457.4,316.1 457.9,316.2 458.4,316.4 458.9,316.5 459.4,316.6 459.9,316.8 460.4,316.9 460.9,317.1 461.4,317.2 461.9,317.3 462.4,317.5 462.9,317.6 463.4,317.7 463.9,317.9 464.4,318.0 464.9,318.2 465.4,318.3 465.9,318.4 466.4,318.6 466.9,318.7 467.4,318.9 467.9,319.0 468.4,319.1 468.9,319.3 469.4,319.4 469.9,319.6 470.4,319.7 470.8,319.9 471.3,320.0 471.8,320.2 472.3,320.3 472.8,320.4 473.3,320.6 473.8,320.7 474.3,320.9 474.8,321.0 475.3,321.2 475.8,321.3 476.3,321.5 476.8,321.6 477.3,321.8 477.8,321.9 478.3,322.1 478.8,322.2 479.3,322.4 479.8,322.5 480.3,322.7 480.7,322.8 481.2,323.0 481.7,323.1 482.2,323.3 482.7,323.5 483.2,323.6 483.7,323.8 484.2,323.9 484.7,324.1 485.2,324.2 485.7,324.4 486.2,324.5 486.7,324.7 487.2,324.9 487.7,325.0 488.2,325.2 488.7,325.3 489.1,325.5 489.6,325.7 490.1,325.8 490.6,326.0 491.1,326.2 491.6,326.3 492.1,326.5 492.6,326.7 493.1,326.8 493.6,327.0 494.1,327.2 494.6,327.3 495.1,327.5 495.6,327.7 496.0,327.8 496.5,328.0 497.0,328.2" fill="none" stroke="#138a20" stroke-width="1.7"/>
<text x="317" y="68.9" font-size="21" text-anchor="end" font-family="Liberation Serif, serif">0</text>
<text x="317" y="135.6" font-size="21" text-anchor="end" font-family="Liberation Serif, serif">−5</text>
<text x="317" y="202.2" font-size="21" text-anchor="end" font-family="Liberation Serif, serif">−10</text>
<text x="317" y="268.9" font-size="21" text-anchor="end" font-family="Liberation Serif, serif">−15</text>
<text x="317" y="335.5" font-size="21" text-anchor="end" font-family="Liberation Serif, serif">−20</text>
<text x="615.7" y="108.5" font-size="21" font-family="Liberation Serif, serif">10</text>
<text x="615.7" y="175.2" font-size="21" font-family="Liberation Serif, serif">5</text>
<text x="615.7" y="241.9" font-size="21" font-family="Liberation Serif, serif">0</text>
<text x="610" y="308.6" font-size="21" font-family="Liberation Serif, serif">−5</text>
<text x="334.4" y="364" font-size="20.5" text-anchor="middle" font-family="Liberation Serif, serif">0</text>
<text x="378.8" y="364" font-size="20.5" text-anchor="middle" font-family="Liberation Serif, serif">20</text>
<text x="423.2" y="364" font-size="20.5" text-anchor="middle" font-family="Liberation Serif, serif">40</text>
<text x="467.6" y="364" font-size="20.5" text-anchor="middle" font-family="Liberation Serif, serif">60</text>
<text x="511.9" y="364" font-size="20.5" text-anchor="middle" font-family="Liberation Serif, serif">80</text>
<text x="556.3" y="364" font-size="20.5" text-anchor="middle" font-family="Liberation Serif, serif">100</text>
<text x="600.7" y="364" font-size="20.5" text-anchor="middle" font-family="Liberation Serif, serif">120</text>
<text x="430.2" y="391.3" font-size="21" font-family="Liberation Serif, serif">P (GPa)</text>
<text transform="translate(269.6,264) rotate(-90)" font-size="21.8" font-family="Liberation Serif, serif">ΔV<tspan font-size="15" dy="3.5">CO<tspan font-size="11" dy="2.5">2</tspan></tspan><tspan dy="-6"> (cm</tspan><tspan font-size="14" dy="-7">3</tspan><tspan dy="7">/mol)</tspan></text>
<text transform="translate(651.9,258.8) rotate(-90)" font-size="20.9" font-family="Liberation Serif, serif">ΔH (×10 kJ/mol)</text>
<text x="464.8" y="89.3" font-size="18.2" font-family="Liberation Serif, serif">ΔV<tspan font-size="14.8" dy="5.3">CO<tspan font-size="11.5" dy="4.2">2</tspan></tspan></text>
<text x="465" y="300.7" font-size="18" font-family="Liberation Serif, serif">ΔH</text>
<text x="484.4" y="159.8" font-size="20.5" text-anchor="end" font-family="Liberation Serif, serif">5.2 wt.%</text>
<line x1="499" y1="153.3" x2="519" y2="153.3" stroke="#000" stroke-width="2" stroke-dasharray="2.8 4.6"/>
<text x="484.4" y="180.2" font-size="20.5" text-anchor="end" font-family="Liberation Serif, serif">16.1 wt.%</text>
<line x1="499" y1="173.8" x2="519" y2="173.8" stroke="#000" stroke-width="2"/>
<text x="484.4" y="200.7" font-size="20.5" text-anchor="end" font-family="Liberation Serif, serif">30.5 wt.%</text>
<line x1="499" y1="194.2" x2="519" y2="194.2" stroke="#000" stroke-width="2" stroke-dasharray="6.5 6.2"/>
</svg>
</body></html>
